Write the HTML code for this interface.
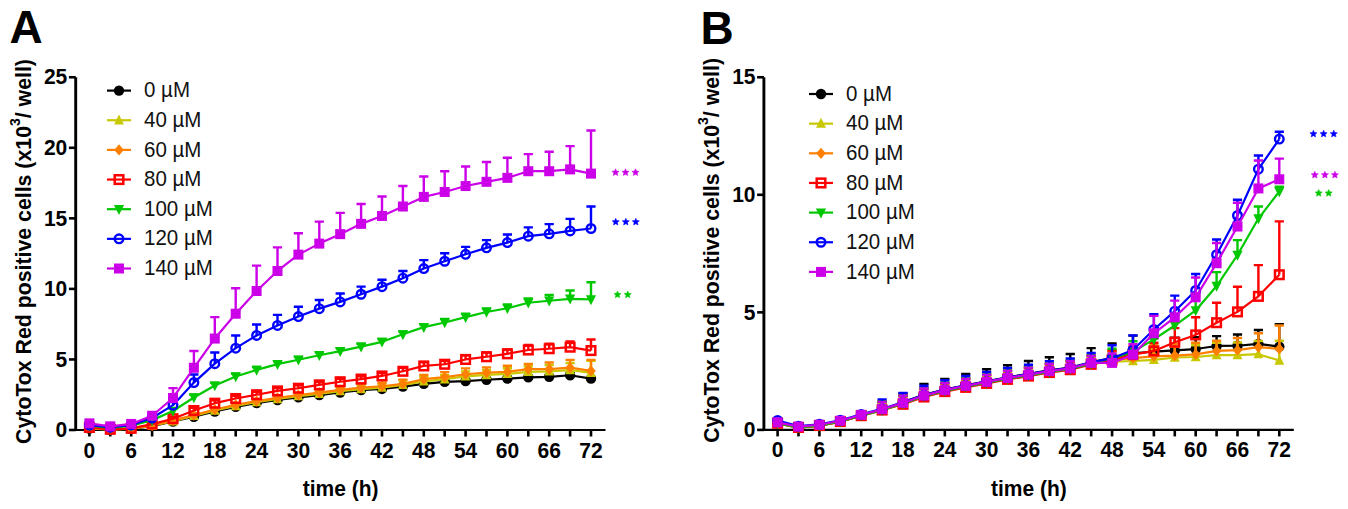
<!DOCTYPE html>
<html><head><meta charset="utf-8">
<style>
html,body{margin:0;padding:0;background:#fff;}
body{width:1348px;height:509px;overflow:hidden;}
svg{display:block;}
text{font-family:"Liberation Sans",sans-serif;}
.tk{font-weight:bold;font-size:21px;fill:#000;}
.sup{font-size:14px;}
.lg{font-size:20.5px;fill:#111;}
.yl{font-weight:bold;font-size:21.3px;fill:#000;}
.pl{font-weight:bold;font-size:46px;fill:#000;}
.st{font-size:20px;font-weight:bold;letter-spacing:2.8px;}
</style></head><body>
<svg width="1348" height="509" viewBox="0 0 1348 509">
<text transform="translate(9.50,43.00)" class="pl">A</text>
<text transform="translate(700.50,43.50)" class="pl">B</text>
<path d="M75.70,77.25V431.10" fill="none" stroke="#000" stroke-width="2.9"/>
<path d="M74.25,430.00H605.50" fill="none" stroke="#000" stroke-width="2.2"/>
<path d="M68.90,430.00H75.70" stroke="#000" stroke-width="2.6"/>
<text transform="translate(67.30,437.20) scale(1,1.08)" class="tk" text-anchor="end">0</text>
<path d="M68.90,359.45H75.70" stroke="#000" stroke-width="2.6"/>
<text transform="translate(67.30,366.65) scale(1,1.08)" class="tk" text-anchor="end">5</text>
<path d="M68.90,288.90H75.70" stroke="#000" stroke-width="2.6"/>
<text transform="translate(67.30,296.10) scale(1,1.08)" class="tk" text-anchor="end">10</text>
<path d="M68.90,218.35H75.70" stroke="#000" stroke-width="2.6"/>
<text transform="translate(67.30,225.55) scale(1,1.08)" class="tk" text-anchor="end">15</text>
<path d="M68.90,147.80H75.70" stroke="#000" stroke-width="2.6"/>
<text transform="translate(67.30,155.00) scale(1,1.08)" class="tk" text-anchor="end">20</text>
<path d="M68.90,77.25H75.70" stroke="#000" stroke-width="2.6"/>
<text transform="translate(67.30,84.45) scale(1,1.08)" class="tk" text-anchor="end">25</text>
<path d="M89.40,430.00V436.50" stroke="#000" stroke-width="2.6"/>
<text transform="translate(89.40,457.50) scale(1,1.08)" class="tk" text-anchor="middle">0</text>
<path d="M110.30,430.00V436.50" stroke="#000" stroke-width="2.6"/>
<path d="M131.20,430.00V436.50" stroke="#000" stroke-width="2.6"/>
<text transform="translate(131.20,457.50) scale(1,1.08)" class="tk" text-anchor="middle">6</text>
<path d="M152.10,430.00V436.50" stroke="#000" stroke-width="2.6"/>
<path d="M173.00,430.00V436.50" stroke="#000" stroke-width="2.6"/>
<text transform="translate(173.00,457.50) scale(1,1.08)" class="tk" text-anchor="middle">12</text>
<path d="M193.90,430.00V436.50" stroke="#000" stroke-width="2.6"/>
<path d="M214.80,430.00V436.50" stroke="#000" stroke-width="2.6"/>
<text transform="translate(214.80,457.50) scale(1,1.08)" class="tk" text-anchor="middle">18</text>
<path d="M235.70,430.00V436.50" stroke="#000" stroke-width="2.6"/>
<path d="M256.60,430.00V436.50" stroke="#000" stroke-width="2.6"/>
<text transform="translate(256.60,457.50) scale(1,1.08)" class="tk" text-anchor="middle">24</text>
<path d="M277.50,430.00V436.50" stroke="#000" stroke-width="2.6"/>
<path d="M298.40,430.00V436.50" stroke="#000" stroke-width="2.6"/>
<text transform="translate(298.40,457.50) scale(1,1.08)" class="tk" text-anchor="middle">30</text>
<path d="M319.30,430.00V436.50" stroke="#000" stroke-width="2.6"/>
<path d="M340.20,430.00V436.50" stroke="#000" stroke-width="2.6"/>
<text transform="translate(340.20,457.50) scale(1,1.08)" class="tk" text-anchor="middle">36</text>
<path d="M361.10,430.00V436.50" stroke="#000" stroke-width="2.6"/>
<path d="M382.00,430.00V436.50" stroke="#000" stroke-width="2.6"/>
<text transform="translate(382.00,457.50) scale(1,1.08)" class="tk" text-anchor="middle">42</text>
<path d="M402.90,430.00V436.50" stroke="#000" stroke-width="2.6"/>
<path d="M423.80,430.00V436.50" stroke="#000" stroke-width="2.6"/>
<text transform="translate(423.80,457.50) scale(1,1.08)" class="tk" text-anchor="middle">48</text>
<path d="M444.70,430.00V436.50" stroke="#000" stroke-width="2.6"/>
<path d="M465.60,430.00V436.50" stroke="#000" stroke-width="2.6"/>
<text transform="translate(465.60,457.50) scale(1,1.08)" class="tk" text-anchor="middle">54</text>
<path d="M486.50,430.00V436.50" stroke="#000" stroke-width="2.6"/>
<path d="M507.40,430.00V436.50" stroke="#000" stroke-width="2.6"/>
<text transform="translate(507.40,457.50) scale(1,1.08)" class="tk" text-anchor="middle">60</text>
<path d="M528.30,430.00V436.50" stroke="#000" stroke-width="2.6"/>
<path d="M549.20,430.00V436.50" stroke="#000" stroke-width="2.6"/>
<text transform="translate(549.20,457.50) scale(1,1.08)" class="tk" text-anchor="middle">66</text>
<path d="M570.10,430.00V436.50" stroke="#000" stroke-width="2.6"/>
<path d="M591.00,430.00V436.50" stroke="#000" stroke-width="2.6"/>
<text transform="translate(591.00,457.50) scale(1,1.08)" class="tk" text-anchor="middle">72</text>
<text transform="translate(340.60,496.00) scale(1,1.08)" class="tk" text-anchor="middle">time (h)</text>
<text transform="translate(31.40,251.50) rotate(-90) scale(1,1.06)" class="yl" text-anchor="middle">CytoTox Red positive cells (x10<tspan class="sup" dy="-10.5">3</tspan><tspan dy="10.5">/ well)</tspan></text>
<g><polyline points="89.40,428.59 110.30,429.72 131.20,428.87 152.10,426.05 173.00,421.53 193.90,416.74 214.80,411.52 235.70,406.86 256.60,403.05 277.50,399.95 298.40,397.41 319.30,395.15 340.20,392.47 361.10,390.07 382.00,388.94 402.90,386.54 423.80,383.86 444.70,381.88 465.60,381.04 486.50,379.77 507.40,378.64 528.30,377.37 549.20,376.81 570.10,375.25 591.00,378.64" fill="none" stroke="#000000" stroke-width="2.2" stroke-linejoin="round"/><path d="M89.40,428.59V426.90M84.80,426.90H94.00" stroke="#000000" stroke-width="2.4"/><path d="M110.30,429.72V428.02M105.70,428.02H114.90" stroke="#000000" stroke-width="2.4"/><path d="M131.20,428.87V427.18M126.60,427.18H135.80" stroke="#000000" stroke-width="2.4"/><path d="M152.10,426.05V424.36M147.50,424.36H156.70" stroke="#000000" stroke-width="2.4"/><path d="M173.00,421.53V419.84M168.40,419.84H177.60" stroke="#000000" stroke-width="2.4"/><path d="M193.90,416.74V415.04M189.30,415.04H198.50" stroke="#000000" stroke-width="2.4"/><path d="M214.80,411.52V409.82M210.20,409.82H219.40" stroke="#000000" stroke-width="2.4"/><path d="M235.70,406.86V405.17M231.10,405.17H240.30" stroke="#000000" stroke-width="2.4"/><path d="M256.60,403.05V401.36M252.00,401.36H261.20" stroke="#000000" stroke-width="2.4"/><path d="M277.50,399.95V398.25M272.90,398.25H282.10" stroke="#000000" stroke-width="2.4"/><path d="M298.40,397.41V395.71M293.80,395.71H303.00" stroke="#000000" stroke-width="2.4"/><path d="M319.30,395.15V393.46M314.70,393.46H323.90" stroke="#000000" stroke-width="2.4"/><path d="M340.20,392.47V390.77M335.60,390.77H344.80" stroke="#000000" stroke-width="2.4"/><path d="M361.10,390.07V388.38M356.50,388.38H365.70" stroke="#000000" stroke-width="2.4"/><path d="M382.00,388.94V387.25M377.40,387.25H386.60" stroke="#000000" stroke-width="2.4"/><path d="M402.90,386.54V384.85M398.30,384.85H407.50" stroke="#000000" stroke-width="2.4"/><path d="M423.80,383.86V382.17M419.20,382.17H428.40" stroke="#000000" stroke-width="2.4"/><path d="M444.70,381.88V380.19M440.10,380.19H449.30" stroke="#000000" stroke-width="2.4"/><path d="M465.60,381.04V379.35M461.00,379.35H470.20" stroke="#000000" stroke-width="2.4"/><path d="M486.50,379.77V378.08M481.90,378.08H491.10" stroke="#000000" stroke-width="2.4"/><path d="M507.40,378.64V376.95M502.80,376.95H512.00" stroke="#000000" stroke-width="2.4"/><path d="M528.30,377.37V375.68M523.70,375.68H532.90" stroke="#000000" stroke-width="2.4"/><path d="M549.20,376.81V375.11M544.60,375.11H553.80" stroke="#000000" stroke-width="2.4"/><path d="M570.10,375.25V373.56M565.50,373.56H574.70" stroke="#000000" stroke-width="2.4"/><path d="M591.00,378.64V376.95M586.40,376.95H595.60" stroke="#000000" stroke-width="2.4"/><circle cx="89.40" cy="428.59" r="5.20" fill="#000000"/><circle cx="110.30" cy="429.72" r="5.20" fill="#000000"/><circle cx="131.20" cy="428.87" r="5.20" fill="#000000"/><circle cx="152.10" cy="426.05" r="5.20" fill="#000000"/><circle cx="173.00" cy="421.53" r="5.20" fill="#000000"/><circle cx="193.90" cy="416.74" r="5.20" fill="#000000"/><circle cx="214.80" cy="411.52" r="5.20" fill="#000000"/><circle cx="235.70" cy="406.86" r="5.20" fill="#000000"/><circle cx="256.60" cy="403.05" r="5.20" fill="#000000"/><circle cx="277.50" cy="399.95" r="5.20" fill="#000000"/><circle cx="298.40" cy="397.41" r="5.20" fill="#000000"/><circle cx="319.30" cy="395.15" r="5.20" fill="#000000"/><circle cx="340.20" cy="392.47" r="5.20" fill="#000000"/><circle cx="361.10" cy="390.07" r="5.20" fill="#000000"/><circle cx="382.00" cy="388.94" r="5.20" fill="#000000"/><circle cx="402.90" cy="386.54" r="5.20" fill="#000000"/><circle cx="423.80" cy="383.86" r="5.20" fill="#000000"/><circle cx="444.70" cy="381.88" r="5.20" fill="#000000"/><circle cx="465.60" cy="381.04" r="5.20" fill="#000000"/><circle cx="486.50" cy="379.77" r="5.20" fill="#000000"/><circle cx="507.40" cy="378.64" r="5.20" fill="#000000"/><circle cx="528.30" cy="377.37" r="5.20" fill="#000000"/><circle cx="549.20" cy="376.81" r="5.20" fill="#000000"/><circle cx="570.10" cy="375.25" r="5.20" fill="#000000"/><circle cx="591.00" cy="378.64" r="5.20" fill="#000000"/></g>
<g><polyline points="89.40,428.31 110.30,429.58 131.20,428.73 152.10,425.77 173.00,421.25 193.90,415.89 214.80,410.53 235.70,406.01 256.60,402.06 277.50,398.96 298.40,396.14 319.30,393.88 340.20,391.20 361.10,389.08 382.00,387.67 402.90,384.85 423.80,381.32 444.70,379.20 465.60,376.38 486.50,374.97 507.40,373.84 528.30,371.87 549.20,371.44 570.10,370.03 591.00,372.85" fill="none" stroke="#c8c800" stroke-width="2.2" stroke-linejoin="round"/><path d="M89.40,428.31V426.90M84.80,426.90H94.00" stroke="#c8c800" stroke-width="2.4"/><path d="M110.30,429.58V428.17M105.70,428.17H114.90" stroke="#c8c800" stroke-width="2.4"/><path d="M131.20,428.73V427.32M126.60,427.32H135.80" stroke="#c8c800" stroke-width="2.4"/><path d="M152.10,425.77V424.36M147.50,424.36H156.70" stroke="#c8c800" stroke-width="2.4"/><path d="M173.00,421.25V419.84M168.40,419.84H177.60" stroke="#c8c800" stroke-width="2.4"/><path d="M193.90,415.89V414.48M189.30,414.48H198.50" stroke="#c8c800" stroke-width="2.4"/><path d="M214.80,410.53V409.12M210.20,409.12H219.40" stroke="#c8c800" stroke-width="2.4"/><path d="M235.70,406.01V404.60M231.10,404.60H240.30" stroke="#c8c800" stroke-width="2.4"/><path d="M256.60,402.06V400.65M252.00,400.65H261.20" stroke="#c8c800" stroke-width="2.4"/><path d="M277.50,398.96V397.55M272.90,397.55H282.10" stroke="#c8c800" stroke-width="2.4"/><path d="M298.40,396.14V394.73M293.80,394.73H303.00" stroke="#c8c800" stroke-width="2.4"/><path d="M319.30,393.88V392.47M314.70,392.47H323.90" stroke="#c8c800" stroke-width="2.4"/><path d="M340.20,391.20V388.38M335.60,388.38H344.80" stroke="#c8c800" stroke-width="2.4"/><path d="M361.10,389.08V385.55M356.50,385.55H365.70" stroke="#c8c800" stroke-width="2.4"/><path d="M382.00,387.67V384.14M377.40,384.14H386.60" stroke="#c8c800" stroke-width="2.4"/><path d="M402.90,384.85V380.62M398.30,380.62H407.50" stroke="#c8c800" stroke-width="2.4"/><path d="M423.80,381.32V377.09M419.20,377.09H428.40" stroke="#c8c800" stroke-width="2.4"/><path d="M444.70,379.20V374.97M440.10,374.97H449.30" stroke="#c8c800" stroke-width="2.4"/><path d="M465.60,376.38V371.44M461.00,371.44H470.20" stroke="#c8c800" stroke-width="2.4"/><path d="M486.50,374.97V370.03M481.90,370.03H491.10" stroke="#c8c800" stroke-width="2.4"/><path d="M507.40,373.84V368.20M502.80,368.20H512.00" stroke="#c8c800" stroke-width="2.4"/><path d="M528.30,371.87V366.22M523.70,366.22H532.90" stroke="#c8c800" stroke-width="2.4"/><path d="M549.20,371.44V365.09M544.60,365.09H553.80" stroke="#c8c800" stroke-width="2.4"/><path d="M570.10,370.03V362.98M565.50,362.98H574.70" stroke="#c8c800" stroke-width="2.4"/><path d="M591.00,372.85V360.86M586.40,360.86H595.60" stroke="#c8c800" stroke-width="2.4"/><path d="M89.40,422.51L94.33,432.48L84.47,432.48Z" fill="#c8c800"/><path d="M110.30,423.78L115.23,433.75L105.37,433.75Z" fill="#c8c800"/><path d="M131.20,422.93L136.13,432.91L126.27,432.91Z" fill="#c8c800"/><path d="M152.10,419.97L157.03,429.94L147.17,429.94Z" fill="#c8c800"/><path d="M173.00,415.45L177.93,425.43L168.07,425.43Z" fill="#c8c800"/><path d="M193.90,410.09L198.83,420.07L188.97,420.07Z" fill="#c8c800"/><path d="M214.80,404.73L219.73,414.70L209.87,414.70Z" fill="#c8c800"/><path d="M235.70,400.21L240.63,410.19L230.77,410.19Z" fill="#c8c800"/><path d="M256.60,396.26L261.53,406.24L251.67,406.24Z" fill="#c8c800"/><path d="M277.50,393.16L282.43,403.13L272.57,403.13Z" fill="#c8c800"/><path d="M298.40,390.34L303.33,400.31L293.47,400.31Z" fill="#c8c800"/><path d="M319.30,388.08L324.23,398.05L314.37,398.05Z" fill="#c8c800"/><path d="M340.20,385.40L345.13,395.37L335.27,395.37Z" fill="#c8c800"/><path d="M361.10,383.28L366.03,393.26L356.17,393.26Z" fill="#c8c800"/><path d="M382.00,381.87L386.93,391.85L377.07,391.85Z" fill="#c8c800"/><path d="M402.90,379.05L407.83,389.02L397.97,389.02Z" fill="#c8c800"/><path d="M423.80,375.52L428.73,385.50L418.87,385.50Z" fill="#c8c800"/><path d="M444.70,373.40L449.63,383.38L439.77,383.38Z" fill="#c8c800"/><path d="M465.60,370.58L470.53,380.56L460.67,380.56Z" fill="#c8c800"/><path d="M486.50,369.17L491.43,379.15L481.57,379.15Z" fill="#c8c800"/><path d="M507.40,368.04L512.33,378.02L502.47,378.02Z" fill="#c8c800"/><path d="M528.30,366.07L533.23,376.04L523.37,376.04Z" fill="#c8c800"/><path d="M549.20,365.64L554.13,375.62L544.27,375.62Z" fill="#c8c800"/><path d="M570.10,364.23L575.03,374.21L565.17,374.21Z" fill="#c8c800"/><path d="M591.00,367.05L595.93,377.03L586.07,377.03Z" fill="#c8c800"/></g>
<g><polyline points="89.40,427.88 110.30,429.29 131.20,428.59 152.10,425.77 173.00,420.41 193.90,415.18 214.80,409.54 235.70,404.88 256.60,401.07 277.50,397.83 298.40,395.01 319.30,392.61 340.20,389.79 361.10,387.67 382.00,386.26 402.90,383.86 423.80,379.20 444.70,377.09 465.60,374.27 486.50,372.71 507.40,371.73 528.30,369.04 549.20,369.04 570.10,367.63 591.00,370.88" fill="none" stroke="#ff8000" stroke-width="2.2" stroke-linejoin="round"/><path d="M89.40,427.88V426.47M84.80,426.47H94.00" stroke="#ff8000" stroke-width="2.4"/><path d="M110.30,429.29V427.88M105.70,427.88H114.90" stroke="#ff8000" stroke-width="2.4"/><path d="M131.20,428.59V427.18M126.60,427.18H135.80" stroke="#ff8000" stroke-width="2.4"/><path d="M152.10,425.77V424.36M147.50,424.36H156.70" stroke="#ff8000" stroke-width="2.4"/><path d="M173.00,420.41V418.99M168.40,418.99H177.60" stroke="#ff8000" stroke-width="2.4"/><path d="M193.90,415.18V413.77M189.30,413.77H198.50" stroke="#ff8000" stroke-width="2.4"/><path d="M214.80,409.54V408.13M210.20,408.13H219.40" stroke="#ff8000" stroke-width="2.4"/><path d="M235.70,404.88V403.47M231.10,403.47H240.30" stroke="#ff8000" stroke-width="2.4"/><path d="M256.60,401.07V399.66M252.00,399.66H261.20" stroke="#ff8000" stroke-width="2.4"/><path d="M277.50,397.83V396.42M272.90,396.42H282.10" stroke="#ff8000" stroke-width="2.4"/><path d="M298.40,395.01V393.60M293.80,393.60H303.00" stroke="#ff8000" stroke-width="2.4"/><path d="M319.30,392.61V391.20M314.70,391.20H323.90" stroke="#ff8000" stroke-width="2.4"/><path d="M340.20,389.79V386.96M335.60,386.96H344.80" stroke="#ff8000" stroke-width="2.4"/><path d="M361.10,387.67V384.14M356.50,384.14H365.70" stroke="#ff8000" stroke-width="2.4"/><path d="M382.00,386.26V382.73M377.40,382.73H386.60" stroke="#ff8000" stroke-width="2.4"/><path d="M402.90,383.86V379.63M398.30,379.63H407.50" stroke="#ff8000" stroke-width="2.4"/><path d="M423.80,379.20V374.97M419.20,374.97H428.40" stroke="#ff8000" stroke-width="2.4"/><path d="M444.70,377.09V372.15M440.10,372.15H449.30" stroke="#ff8000" stroke-width="2.4"/><path d="M465.60,374.27V368.34M461.00,368.34H470.20" stroke="#ff8000" stroke-width="2.4"/><path d="M486.50,372.71V367.35M481.90,367.35H491.10" stroke="#ff8000" stroke-width="2.4"/><path d="M507.40,371.73V365.80M502.80,365.80H512.00" stroke="#ff8000" stroke-width="2.4"/><path d="M528.30,369.04V363.97M523.70,363.97H532.90" stroke="#ff8000" stroke-width="2.4"/><path d="M549.20,369.04V362.55M544.60,362.55H553.80" stroke="#ff8000" stroke-width="2.4"/><path d="M570.10,367.63V359.87M565.50,359.87H574.70" stroke="#ff8000" stroke-width="2.4"/><path d="M591.00,370.88V359.87M586.40,359.87H595.60" stroke="#ff8000" stroke-width="2.4"/><path d="M89.40,422.28L94.16,427.88L89.40,433.48L84.64,427.88Z" fill="#ff8000"/><path d="M110.30,423.69L115.06,429.29L110.30,434.89L105.54,429.29Z" fill="#ff8000"/><path d="M131.20,422.99L135.96,428.59L131.20,434.19L126.44,428.59Z" fill="#ff8000"/><path d="M152.10,420.17L156.86,425.77L152.10,431.37L147.34,425.77Z" fill="#ff8000"/><path d="M173.00,414.81L177.76,420.41L173.00,426.01L168.24,420.41Z" fill="#ff8000"/><path d="M193.90,409.58L198.66,415.18L193.90,420.78L189.14,415.18Z" fill="#ff8000"/><path d="M214.80,403.94L219.56,409.54L214.80,415.14L210.04,409.54Z" fill="#ff8000"/><path d="M235.70,399.28L240.46,404.88L235.70,410.48L230.94,404.88Z" fill="#ff8000"/><path d="M256.60,395.47L261.36,401.07L256.60,406.67L251.84,401.07Z" fill="#ff8000"/><path d="M277.50,392.23L282.26,397.83L277.50,403.43L272.74,397.83Z" fill="#ff8000"/><path d="M298.40,389.41L303.16,395.01L298.40,400.61L293.64,395.01Z" fill="#ff8000"/><path d="M319.30,387.01L324.06,392.61L319.30,398.21L314.54,392.61Z" fill="#ff8000"/><path d="M340.20,384.19L344.96,389.79L340.20,395.39L335.44,389.79Z" fill="#ff8000"/><path d="M361.10,382.07L365.86,387.67L361.10,393.27L356.34,387.67Z" fill="#ff8000"/><path d="M382.00,380.66L386.76,386.26L382.00,391.86L377.24,386.26Z" fill="#ff8000"/><path d="M402.90,378.26L407.66,383.86L402.90,389.46L398.14,383.86Z" fill="#ff8000"/><path d="M423.80,373.60L428.56,379.20L423.80,384.80L419.04,379.20Z" fill="#ff8000"/><path d="M444.70,371.49L449.46,377.09L444.70,382.69L439.94,377.09Z" fill="#ff8000"/><path d="M465.60,368.67L470.36,374.27L465.60,379.87L460.84,374.27Z" fill="#ff8000"/><path d="M486.50,367.11L491.26,372.71L486.50,378.31L481.74,372.71Z" fill="#ff8000"/><path d="M507.40,366.13L512.16,371.73L507.40,377.33L502.64,371.73Z" fill="#ff8000"/><path d="M528.30,363.44L533.06,369.04L528.30,374.64L523.54,369.04Z" fill="#ff8000"/><path d="M549.20,363.44L553.96,369.04L549.20,374.64L544.44,369.04Z" fill="#ff8000"/><path d="M570.10,362.03L574.86,367.63L570.10,373.23L565.34,367.63Z" fill="#ff8000"/><path d="M591.00,365.28L595.76,370.88L591.00,376.48L586.24,370.88Z" fill="#ff8000"/></g>
<g><polyline points="89.40,427.46 110.30,429.29 131.20,428.31 152.10,424.07 173.00,418.71 193.90,410.53 214.80,403.19 235.70,398.53 256.60,394.73 277.50,390.92 298.40,388.23 319.30,384.85 340.20,381.74 361.10,379.06 382.00,375.96 402.90,371.30 423.80,365.94 444.70,364.25 465.60,359.45 486.50,356.77 507.40,353.81 528.30,350.00 549.20,348.73 570.10,347.17 591.00,350.56" fill="none" stroke="#ff0000" stroke-width="2.2" stroke-linejoin="round"/><path d="M89.40,427.46V426.05M84.80,426.05H94.00" stroke="#ff0000" stroke-width="2.4"/><path d="M110.30,429.29V427.88M105.70,427.88H114.90" stroke="#ff0000" stroke-width="2.4"/><path d="M131.20,428.31V426.90M126.60,426.90H135.80" stroke="#ff0000" stroke-width="2.4"/><path d="M152.10,424.07V422.66M147.50,422.66H156.70" stroke="#ff0000" stroke-width="2.4"/><path d="M173.00,418.71V416.60M168.40,416.60H177.60" stroke="#ff0000" stroke-width="2.4"/><path d="M193.90,410.53V407.71M189.30,407.71H198.50" stroke="#ff0000" stroke-width="2.4"/><path d="M214.80,403.19V400.37M210.20,400.37H219.40" stroke="#ff0000" stroke-width="2.4"/><path d="M235.70,398.53V395.71M231.10,395.71H240.30" stroke="#ff0000" stroke-width="2.4"/><path d="M256.60,394.73V391.90M252.00,391.90H261.20" stroke="#ff0000" stroke-width="2.4"/><path d="M277.50,390.92V388.09M272.90,388.09H282.10" stroke="#ff0000" stroke-width="2.4"/><path d="M298.40,388.23V385.41M293.80,385.41H303.00" stroke="#ff0000" stroke-width="2.4"/><path d="M319.30,384.85V382.03M314.70,382.03H323.90" stroke="#ff0000" stroke-width="2.4"/><path d="M340.20,381.74V378.92M335.60,378.92H344.80" stroke="#ff0000" stroke-width="2.4"/><path d="M361.10,379.06V376.24M356.50,376.24H365.70" stroke="#ff0000" stroke-width="2.4"/><path d="M382.00,375.96V373.14M377.40,373.14H386.60" stroke="#ff0000" stroke-width="2.4"/><path d="M402.90,371.30V367.77M398.30,367.77H407.50" stroke="#ff0000" stroke-width="2.4"/><path d="M423.80,365.94V362.41M419.20,362.41H428.40" stroke="#ff0000" stroke-width="2.4"/><path d="M444.70,364.25V360.72M440.10,360.72H449.30" stroke="#ff0000" stroke-width="2.4"/><path d="M465.60,359.45V355.22M461.00,355.22H470.20" stroke="#ff0000" stroke-width="2.4"/><path d="M486.50,356.77V352.54M481.90,352.54H491.10" stroke="#ff0000" stroke-width="2.4"/><path d="M507.40,353.81V349.57M502.80,349.57H512.00" stroke="#ff0000" stroke-width="2.4"/><path d="M528.30,350.00V345.06M523.70,345.06H532.90" stroke="#ff0000" stroke-width="2.4"/><path d="M549.20,348.73V343.79M544.60,343.79H553.80" stroke="#ff0000" stroke-width="2.4"/><path d="M570.10,347.17V341.53M565.50,341.53H574.70" stroke="#ff0000" stroke-width="2.4"/><path d="M591.00,350.56V339.55M586.40,339.55H595.60" stroke="#ff0000" stroke-width="2.4"/><rect x="85.10" y="423.16" width="8.60" height="8.60" fill="none" stroke="#ff0000" stroke-width="2.5"/><rect x="106.00" y="424.99" width="8.60" height="8.60" fill="none" stroke="#ff0000" stroke-width="2.5"/><rect x="126.90" y="424.01" width="8.60" height="8.60" fill="none" stroke="#ff0000" stroke-width="2.5"/><rect x="147.80" y="419.77" width="8.60" height="8.60" fill="none" stroke="#ff0000" stroke-width="2.5"/><rect x="168.70" y="414.41" width="8.60" height="8.60" fill="none" stroke="#ff0000" stroke-width="2.5"/><rect x="189.60" y="406.23" width="8.60" height="8.60" fill="none" stroke="#ff0000" stroke-width="2.5"/><rect x="210.50" y="398.89" width="8.60" height="8.60" fill="none" stroke="#ff0000" stroke-width="2.5"/><rect x="231.40" y="394.23" width="8.60" height="8.60" fill="none" stroke="#ff0000" stroke-width="2.5"/><rect x="252.30" y="390.43" width="8.60" height="8.60" fill="none" stroke="#ff0000" stroke-width="2.5"/><rect x="273.20" y="386.62" width="8.60" height="8.60" fill="none" stroke="#ff0000" stroke-width="2.5"/><rect x="294.10" y="383.93" width="8.60" height="8.60" fill="none" stroke="#ff0000" stroke-width="2.5"/><rect x="315.00" y="380.55" width="8.60" height="8.60" fill="none" stroke="#ff0000" stroke-width="2.5"/><rect x="335.90" y="377.44" width="8.60" height="8.60" fill="none" stroke="#ff0000" stroke-width="2.5"/><rect x="356.80" y="374.76" width="8.60" height="8.60" fill="none" stroke="#ff0000" stroke-width="2.5"/><rect x="377.70" y="371.66" width="8.60" height="8.60" fill="none" stroke="#ff0000" stroke-width="2.5"/><rect x="398.60" y="367.00" width="8.60" height="8.60" fill="none" stroke="#ff0000" stroke-width="2.5"/><rect x="419.50" y="361.64" width="8.60" height="8.60" fill="none" stroke="#ff0000" stroke-width="2.5"/><rect x="440.40" y="359.95" width="8.60" height="8.60" fill="none" stroke="#ff0000" stroke-width="2.5"/><rect x="461.30" y="355.15" width="8.60" height="8.60" fill="none" stroke="#ff0000" stroke-width="2.5"/><rect x="482.20" y="352.47" width="8.60" height="8.60" fill="none" stroke="#ff0000" stroke-width="2.5"/><rect x="503.10" y="349.51" width="8.60" height="8.60" fill="none" stroke="#ff0000" stroke-width="2.5"/><rect x="524.00" y="345.70" width="8.60" height="8.60" fill="none" stroke="#ff0000" stroke-width="2.5"/><rect x="544.90" y="344.43" width="8.60" height="8.60" fill="none" stroke="#ff0000" stroke-width="2.5"/><rect x="565.80" y="342.87" width="8.60" height="8.60" fill="none" stroke="#ff0000" stroke-width="2.5"/><rect x="586.70" y="346.26" width="8.60" height="8.60" fill="none" stroke="#ff0000" stroke-width="2.5"/></g>
<g><polyline points="89.40,425.77 110.30,427.88 131.20,425.77 152.10,420.12 173.00,410.95 193.90,397.55 214.80,385.55 235.70,376.52 256.60,369.89 277.50,364.11 298.40,359.73 319.30,355.22 340.20,351.13 361.10,346.61 382.00,341.81 402.90,334.33 423.80,327.14 444.70,322.48 465.60,317.12 486.50,312.04 507.40,308.23 528.30,302.73 549.20,300.75 570.10,298.78 591.00,299.34" fill="none" stroke="#00c800" stroke-width="2.2" stroke-linejoin="round"/><path d="M89.40,425.77V424.36M84.80,424.36H94.00" stroke="#00c800" stroke-width="2.4"/><path d="M110.30,427.88V426.47M105.70,426.47H114.90" stroke="#00c800" stroke-width="2.4"/><path d="M131.20,425.77V424.36M126.60,424.36H135.80" stroke="#00c800" stroke-width="2.4"/><path d="M152.10,420.12V418.71M147.50,418.71H156.70" stroke="#00c800" stroke-width="2.4"/><path d="M173.00,410.95V408.83M168.40,408.83H177.60" stroke="#00c800" stroke-width="2.4"/><path d="M193.90,397.55V394.73M189.30,394.73H198.50" stroke="#00c800" stroke-width="2.4"/><path d="M214.80,385.55V382.73M210.20,382.73H219.40" stroke="#00c800" stroke-width="2.4"/><path d="M235.70,376.52V373.70M231.10,373.70H240.30" stroke="#00c800" stroke-width="2.4"/><path d="M256.60,369.89V367.07M252.00,367.07H261.20" stroke="#00c800" stroke-width="2.4"/><path d="M277.50,364.11V361.28M272.90,361.28H282.10" stroke="#00c800" stroke-width="2.4"/><path d="M298.40,359.73V356.91M293.80,356.91H303.00" stroke="#00c800" stroke-width="2.4"/><path d="M319.30,355.22V352.39M314.70,352.39H323.90" stroke="#00c800" stroke-width="2.4"/><path d="M340.20,351.13V348.30M335.60,348.30H344.80" stroke="#00c800" stroke-width="2.4"/><path d="M361.10,346.61V343.79M356.50,343.79H365.70" stroke="#00c800" stroke-width="2.4"/><path d="M382.00,341.81V338.99M377.40,338.99H386.60" stroke="#00c800" stroke-width="2.4"/><path d="M402.90,334.33V331.51M398.30,331.51H407.50" stroke="#00c800" stroke-width="2.4"/><path d="M423.80,327.14V324.32M419.20,324.32H428.40" stroke="#00c800" stroke-width="2.4"/><path d="M444.70,322.48V318.95M440.10,318.95H449.30" stroke="#00c800" stroke-width="2.4"/><path d="M465.60,317.12V313.59M461.00,313.59H470.20" stroke="#00c800" stroke-width="2.4"/><path d="M486.50,312.04V308.51M481.90,308.51H491.10" stroke="#00c800" stroke-width="2.4"/><path d="M507.40,308.23V304.42M502.80,304.42H512.00" stroke="#00c800" stroke-width="2.4"/><path d="M528.30,302.73V298.49M523.70,298.49H532.90" stroke="#00c800" stroke-width="2.4"/><path d="M549.20,300.75V294.97M544.60,294.97H553.80" stroke="#00c800" stroke-width="2.4"/><path d="M570.10,298.78V290.45M565.50,290.45H574.70" stroke="#00c800" stroke-width="2.4"/><path d="M591.00,299.34V282.27M586.40,282.27H595.60" stroke="#00c800" stroke-width="2.4"/><path d="M89.40,431.57L94.50,421.59L84.30,421.59Z" fill="#00c800"/><path d="M110.30,433.68L115.40,423.71L105.20,423.71Z" fill="#00c800"/><path d="M131.20,431.57L136.30,421.59L126.10,421.59Z" fill="#00c800"/><path d="M152.10,425.92L157.20,415.95L147.00,415.95Z" fill="#00c800"/><path d="M173.00,416.75L178.10,406.78L167.90,406.78Z" fill="#00c800"/><path d="M193.90,403.35L199.00,393.37L188.80,393.37Z" fill="#00c800"/><path d="M214.80,391.35L219.90,381.38L209.70,381.38Z" fill="#00c800"/><path d="M235.70,382.32L240.80,372.35L230.60,372.35Z" fill="#00c800"/><path d="M256.60,375.69L261.70,365.72L251.50,365.72Z" fill="#00c800"/><path d="M277.50,369.91L282.60,359.93L272.40,359.93Z" fill="#00c800"/><path d="M298.40,365.53L303.50,355.56L293.30,355.56Z" fill="#00c800"/><path d="M319.30,361.02L324.40,351.04L314.20,351.04Z" fill="#00c800"/><path d="M340.20,356.93L345.30,346.95L335.10,346.95Z" fill="#00c800"/><path d="M361.10,352.41L366.20,342.43L356.00,342.43Z" fill="#00c800"/><path d="M382.00,347.61L387.10,337.64L376.90,337.64Z" fill="#00c800"/><path d="M402.90,340.13L408.00,330.16L397.80,330.16Z" fill="#00c800"/><path d="M423.80,332.94L428.90,322.96L418.70,322.96Z" fill="#00c800"/><path d="M444.70,328.28L449.80,318.31L439.60,318.31Z" fill="#00c800"/><path d="M465.60,322.92L470.70,312.94L460.50,312.94Z" fill="#00c800"/><path d="M486.50,317.84L491.60,307.86L481.40,307.86Z" fill="#00c800"/><path d="M507.40,314.03L512.50,304.05L502.30,304.05Z" fill="#00c800"/><path d="M528.30,308.53L533.40,298.55L523.20,298.55Z" fill="#00c800"/><path d="M549.20,306.55L554.30,296.58L544.10,296.58Z" fill="#00c800"/><path d="M570.10,304.58L575.20,294.60L565.00,294.60Z" fill="#00c800"/><path d="M591.00,305.14L596.10,295.17L585.90,295.17Z" fill="#00c800"/></g>
<g><polyline points="89.40,425.06 110.30,427.18 131.20,425.06 152.10,418.01 173.00,405.17 193.90,382.59 214.80,363.68 235.70,348.16 256.60,335.46 277.50,325.44 298.40,316.56 319.30,308.65 340.20,301.88 361.10,294.26 382.00,286.64 402.90,278.18 423.80,268.58 444.70,261.24 465.60,254.33 486.50,247.84 507.40,242.62 528.30,236.13 549.20,233.87 570.10,230.91 591.00,228.51" fill="none" stroke="#0000ff" stroke-width="2.2" stroke-linejoin="round"/><path d="M89.40,425.06V423.65M84.80,423.65H94.00" stroke="#0000ff" stroke-width="2.4"/><path d="M110.30,427.18V425.77M105.70,425.77H114.90" stroke="#0000ff" stroke-width="2.4"/><path d="M131.20,425.06V423.65M126.60,423.65H135.80" stroke="#0000ff" stroke-width="2.4"/><path d="M152.10,418.01V415.89M147.50,415.89H156.70" stroke="#0000ff" stroke-width="2.4"/><path d="M173.00,405.17V399.66M168.40,399.66H177.60" stroke="#0000ff" stroke-width="2.4"/><path d="M193.90,382.59V374.55M189.30,374.55H198.50" stroke="#0000ff" stroke-width="2.4"/><path d="M214.80,363.68V352.54M210.20,352.54H219.40" stroke="#0000ff" stroke-width="2.4"/><path d="M235.70,348.16V335.46M231.10,335.46H240.30" stroke="#0000ff" stroke-width="2.4"/><path d="M256.60,335.46V324.46M252.00,324.46H261.20" stroke="#0000ff" stroke-width="2.4"/><path d="M277.50,325.44V314.86M272.90,314.86H282.10" stroke="#0000ff" stroke-width="2.4"/><path d="M298.40,316.56V306.82M293.80,306.82H303.00" stroke="#0000ff" stroke-width="2.4"/><path d="M319.30,308.65V300.05M314.70,300.05H323.90" stroke="#0000ff" stroke-width="2.4"/><path d="M340.20,301.88V293.56M335.60,293.56H344.80" stroke="#0000ff" stroke-width="2.4"/><path d="M361.10,294.26V286.64M356.50,286.64H365.70" stroke="#0000ff" stroke-width="2.4"/><path d="M382.00,286.64V279.73M377.40,279.73H386.60" stroke="#0000ff" stroke-width="2.4"/><path d="M402.90,278.18V270.98M398.30,270.98H407.50" stroke="#0000ff" stroke-width="2.4"/><path d="M423.80,268.58V260.12M419.20,260.12H428.40" stroke="#0000ff" stroke-width="2.4"/><path d="M444.70,261.24V253.20M440.10,253.20H449.30" stroke="#0000ff" stroke-width="2.4"/><path d="M465.60,254.33V246.85M461.00,246.85H470.20" stroke="#0000ff" stroke-width="2.4"/><path d="M486.50,247.84V240.08M481.90,240.08H491.10" stroke="#0000ff" stroke-width="2.4"/><path d="M507.40,242.62V234.44M502.80,234.44H512.00" stroke="#0000ff" stroke-width="2.4"/><path d="M528.30,236.13V227.38M523.70,227.38H532.90" stroke="#0000ff" stroke-width="2.4"/><path d="M549.20,233.87V224.14M544.60,224.14H553.80" stroke="#0000ff" stroke-width="2.4"/><path d="M570.10,230.91V218.91M565.50,218.91H574.70" stroke="#0000ff" stroke-width="2.4"/><path d="M591.00,228.51V206.50M586.40,206.50H595.60" stroke="#0000ff" stroke-width="2.4"/><circle cx="89.40" cy="425.06" r="4.30" fill="none" stroke="#0000ff" stroke-width="2.4"/><circle cx="110.30" cy="427.18" r="4.30" fill="none" stroke="#0000ff" stroke-width="2.4"/><circle cx="131.20" cy="425.06" r="4.30" fill="none" stroke="#0000ff" stroke-width="2.4"/><circle cx="152.10" cy="418.01" r="4.30" fill="none" stroke="#0000ff" stroke-width="2.4"/><circle cx="173.00" cy="405.17" r="4.30" fill="none" stroke="#0000ff" stroke-width="2.4"/><circle cx="193.90" cy="382.59" r="4.30" fill="none" stroke="#0000ff" stroke-width="2.4"/><circle cx="214.80" cy="363.68" r="4.30" fill="none" stroke="#0000ff" stroke-width="2.4"/><circle cx="235.70" cy="348.16" r="4.30" fill="none" stroke="#0000ff" stroke-width="2.4"/><circle cx="256.60" cy="335.46" r="4.30" fill="none" stroke="#0000ff" stroke-width="2.4"/><circle cx="277.50" cy="325.44" r="4.30" fill="none" stroke="#0000ff" stroke-width="2.4"/><circle cx="298.40" cy="316.56" r="4.30" fill="none" stroke="#0000ff" stroke-width="2.4"/><circle cx="319.30" cy="308.65" r="4.30" fill="none" stroke="#0000ff" stroke-width="2.4"/><circle cx="340.20" cy="301.88" r="4.30" fill="none" stroke="#0000ff" stroke-width="2.4"/><circle cx="361.10" cy="294.26" r="4.30" fill="none" stroke="#0000ff" stroke-width="2.4"/><circle cx="382.00" cy="286.64" r="4.30" fill="none" stroke="#0000ff" stroke-width="2.4"/><circle cx="402.90" cy="278.18" r="4.30" fill="none" stroke="#0000ff" stroke-width="2.4"/><circle cx="423.80" cy="268.58" r="4.30" fill="none" stroke="#0000ff" stroke-width="2.4"/><circle cx="444.70" cy="261.24" r="4.30" fill="none" stroke="#0000ff" stroke-width="2.4"/><circle cx="465.60" cy="254.33" r="4.30" fill="none" stroke="#0000ff" stroke-width="2.4"/><circle cx="486.50" cy="247.84" r="4.30" fill="none" stroke="#0000ff" stroke-width="2.4"/><circle cx="507.40" cy="242.62" r="4.30" fill="none" stroke="#0000ff" stroke-width="2.4"/><circle cx="528.30" cy="236.13" r="4.30" fill="none" stroke="#0000ff" stroke-width="2.4"/><circle cx="549.20" cy="233.87" r="4.30" fill="none" stroke="#0000ff" stroke-width="2.4"/><circle cx="570.10" cy="230.91" r="4.30" fill="none" stroke="#0000ff" stroke-width="2.4"/><circle cx="591.00" cy="228.51" r="4.30" fill="none" stroke="#0000ff" stroke-width="2.4"/></g>
<g><polyline points="89.40,423.37 110.30,426.33 131.20,423.93 152.10,415.75 173.00,397.97 193.90,367.77 214.80,338.57 235.70,313.73 256.60,291.02 277.50,270.98 298.40,254.61 319.30,243.61 340.20,234.15 361.10,223.85 382.00,215.95 402.90,206.50 423.80,196.90 444.70,191.96 465.60,186.04 486.50,181.81 507.40,177.85 528.30,171.22 549.20,171.22 570.10,169.39 591.00,173.62" fill="none" stroke="#cc00e8" stroke-width="2.2" stroke-linejoin="round"/><path d="M89.40,423.37V421.96M84.80,421.96H94.00" stroke="#cc00e8" stroke-width="2.4"/><path d="M110.30,426.33V424.92M105.70,424.92H114.90" stroke="#cc00e8" stroke-width="2.4"/><path d="M131.20,423.93V422.52M126.60,422.52H135.80" stroke="#cc00e8" stroke-width="2.4"/><path d="M152.10,415.75V413.63M147.50,413.63H156.70" stroke="#cc00e8" stroke-width="2.4"/><path d="M173.00,397.97V388.09M168.40,388.09H177.60" stroke="#cc00e8" stroke-width="2.4"/><path d="M193.90,367.77V350.98M189.30,350.98H198.50" stroke="#cc00e8" stroke-width="2.4"/><path d="M214.80,338.57V317.12M210.20,317.12H219.40" stroke="#cc00e8" stroke-width="2.4"/><path d="M235.70,313.73V288.19M231.10,288.19H240.30" stroke="#cc00e8" stroke-width="2.4"/><path d="M256.60,291.02V265.62M252.00,265.62H261.20" stroke="#cc00e8" stroke-width="2.4"/><path d="M277.50,270.98V247.42M272.90,247.42H282.10" stroke="#cc00e8" stroke-width="2.4"/><path d="M298.40,254.61V233.31M293.80,233.31H303.00" stroke="#cc00e8" stroke-width="2.4"/><path d="M319.30,243.61V221.60M314.70,221.60H323.90" stroke="#cc00e8" stroke-width="2.4"/><path d="M340.20,234.15V212.85M335.60,212.85H344.80" stroke="#cc00e8" stroke-width="2.4"/><path d="M361.10,223.85V203.96M356.50,203.96H365.70" stroke="#cc00e8" stroke-width="2.4"/><path d="M382.00,215.95V196.48M377.40,196.48H386.60" stroke="#cc00e8" stroke-width="2.4"/><path d="M402.90,206.50V186.04M398.30,186.04H407.50" stroke="#cc00e8" stroke-width="2.4"/><path d="M423.80,196.90V176.44M419.20,176.44H428.40" stroke="#cc00e8" stroke-width="2.4"/><path d="M444.70,191.96V171.22M440.10,171.22H449.30" stroke="#cc00e8" stroke-width="2.4"/><path d="M465.60,186.04V166.57M461.00,166.57H470.20" stroke="#cc00e8" stroke-width="2.4"/><path d="M486.50,181.81V162.05M481.90,162.05H491.10" stroke="#cc00e8" stroke-width="2.4"/><path d="M507.40,177.85V157.68M502.80,157.68H512.00" stroke="#cc00e8" stroke-width="2.4"/><path d="M528.30,171.22V154.15M523.70,154.15H532.90" stroke="#cc00e8" stroke-width="2.4"/><path d="M549.20,171.22V151.75M544.60,151.75H553.80" stroke="#cc00e8" stroke-width="2.4"/><path d="M570.10,169.39V146.11M565.50,146.11H574.70" stroke="#cc00e8" stroke-width="2.4"/><path d="M591.00,173.62V130.44M586.40,130.44H595.60" stroke="#cc00e8" stroke-width="2.4"/><rect x="84.40" y="418.37" width="10.00" height="10.00" fill="#cc00e8"/><rect x="105.30" y="421.33" width="10.00" height="10.00" fill="#cc00e8"/><rect x="126.20" y="418.93" width="10.00" height="10.00" fill="#cc00e8"/><rect x="147.10" y="410.75" width="10.00" height="10.00" fill="#cc00e8"/><rect x="168.00" y="392.97" width="10.00" height="10.00" fill="#cc00e8"/><rect x="188.90" y="362.77" width="10.00" height="10.00" fill="#cc00e8"/><rect x="209.80" y="333.57" width="10.00" height="10.00" fill="#cc00e8"/><rect x="230.70" y="308.73" width="10.00" height="10.00" fill="#cc00e8"/><rect x="251.60" y="286.02" width="10.00" height="10.00" fill="#cc00e8"/><rect x="272.50" y="265.98" width="10.00" height="10.00" fill="#cc00e8"/><rect x="293.40" y="249.61" width="10.00" height="10.00" fill="#cc00e8"/><rect x="314.30" y="238.61" width="10.00" height="10.00" fill="#cc00e8"/><rect x="335.20" y="229.15" width="10.00" height="10.00" fill="#cc00e8"/><rect x="356.10" y="218.85" width="10.00" height="10.00" fill="#cc00e8"/><rect x="377.00" y="210.95" width="10.00" height="10.00" fill="#cc00e8"/><rect x="397.90" y="201.50" width="10.00" height="10.00" fill="#cc00e8"/><rect x="418.80" y="191.90" width="10.00" height="10.00" fill="#cc00e8"/><rect x="439.70" y="186.96" width="10.00" height="10.00" fill="#cc00e8"/><rect x="460.60" y="181.04" width="10.00" height="10.00" fill="#cc00e8"/><rect x="481.50" y="176.81" width="10.00" height="10.00" fill="#cc00e8"/><rect x="502.40" y="172.85" width="10.00" height="10.00" fill="#cc00e8"/><rect x="523.30" y="166.22" width="10.00" height="10.00" fill="#cc00e8"/><rect x="544.20" y="166.22" width="10.00" height="10.00" fill="#cc00e8"/><rect x="565.10" y="164.39" width="10.00" height="10.00" fill="#cc00e8"/><rect x="586.00" y="168.62" width="10.00" height="10.00" fill="#cc00e8"/></g>
<path d="M107.00,90.60H131.00" stroke="#000000" stroke-width="2.2"/>
<circle cx="119.00" cy="90.60" r="5.20" fill="#000000"/>
<text transform="translate(144.00,97.20) scale(1,1.08)" class="lg">0 µM</text>
<path d="M107.00,120.25H131.00" stroke="#c8c800" stroke-width="2.2"/>
<path d="M119.00,114.45L123.93,124.43L114.07,124.43Z" fill="#c8c800"/>
<text transform="translate(144.00,126.85) scale(1,1.08)" class="lg">40 µM</text>
<path d="M107.00,149.90H131.00" stroke="#ff8000" stroke-width="2.2"/>
<path d="M119.00,144.30L123.76,149.90L119.00,155.50L114.24,149.90Z" fill="#ff8000"/>
<text transform="translate(144.00,156.50) scale(1,1.08)" class="lg">60 µM</text>
<path d="M107.00,179.55H131.00" stroke="#ff0000" stroke-width="2.2"/>
<rect x="114.70" y="175.25" width="8.60" height="8.60" fill="none" stroke="#ff0000" stroke-width="2.5"/>
<text transform="translate(144.00,186.15) scale(1,1.08)" class="lg">80 µM</text>
<path d="M107.00,209.20H131.00" stroke="#00c800" stroke-width="2.2"/>
<path d="M119.00,215.00L124.10,205.02L113.90,205.02Z" fill="#00c800"/>
<text transform="translate(144.00,215.80) scale(1,1.08)" class="lg">100 µM</text>
<path d="M107.00,238.85H131.00" stroke="#0000ff" stroke-width="2.2"/>
<circle cx="119.00" cy="238.85" r="4.30" fill="none" stroke="#0000ff" stroke-width="2.4"/>
<text transform="translate(144.00,245.45) scale(1,1.08)" class="lg">120 µM</text>
<path d="M107.00,268.50H131.00" stroke="#cc00e8" stroke-width="2.2"/>
<rect x="114.00" y="263.50" width="10.00" height="10.00" fill="#cc00e8"/>
<text transform="translate(144.00,275.10) scale(1,1.08)" class="lg">140 µM</text>
<polygon points="615.50,168.75 616.53,171.08 619.07,171.34 617.16,173.04 617.70,175.53 615.50,174.25 613.30,175.53 613.84,173.04 611.93,171.34 614.47,171.08" fill="#cc00e8" stroke="#cc00e8" stroke-width="0.5" stroke-linejoin="round"/>
<polygon points="625.50,168.75 626.53,171.08 629.07,171.34 627.16,173.04 627.70,175.53 625.50,174.25 623.30,175.53 623.84,173.04 621.93,171.34 624.47,171.08" fill="#cc00e8" stroke="#cc00e8" stroke-width="0.5" stroke-linejoin="round"/>
<polygon points="635.50,168.75 636.53,171.08 639.07,171.34 637.16,173.04 637.70,175.53 635.50,174.25 633.30,175.53 633.84,173.04 631.93,171.34 634.47,171.08" fill="#cc00e8" stroke="#cc00e8" stroke-width="0.5" stroke-linejoin="round"/>
<polygon points="615.70,218.25 616.73,220.58 619.27,220.84 617.36,222.54 617.90,225.03 615.70,223.75 613.50,225.03 614.04,222.54 612.13,220.84 614.67,220.58" fill="#0000ff" stroke="#0000ff" stroke-width="0.5" stroke-linejoin="round"/>
<polygon points="625.80,218.25 626.83,220.58 629.37,220.84 627.46,222.54 628.00,225.03 625.80,223.75 623.60,225.03 624.14,222.54 622.23,220.84 624.77,220.58" fill="#0000ff" stroke="#0000ff" stroke-width="0.5" stroke-linejoin="round"/>
<polygon points="635.80,218.25 636.83,220.58 639.37,220.84 637.46,222.54 638.00,225.03 635.80,223.75 633.60,225.03 634.14,222.54 632.23,220.84 634.77,220.58" fill="#0000ff" stroke="#0000ff" stroke-width="0.5" stroke-linejoin="round"/>
<polygon points="617.50,290.95 618.53,293.28 621.07,293.54 619.16,295.24 619.70,297.73 617.50,296.45 615.30,297.73 615.84,295.24 613.93,293.54 616.47,293.28" fill="#00c800" stroke="#00c800" stroke-width="0.5" stroke-linejoin="round"/>
<polygon points="627.70,290.95 628.73,293.28 631.27,293.54 629.36,295.24 629.90,297.73 627.70,296.45 625.50,297.73 626.04,295.24 624.13,293.54 626.67,293.28" fill="#00c800" stroke="#00c800" stroke-width="0.5" stroke-linejoin="round"/>
<path d="M763.90,77.25V431.00" fill="none" stroke="#000" stroke-width="2.9"/>
<path d="M762.45,429.90H1293.80" fill="none" stroke="#000" stroke-width="2.2"/>
<path d="M757.10,429.90H763.90" stroke="#000" stroke-width="2.6"/>
<text transform="translate(755.50,437.10) scale(1,1.08)" class="tk" text-anchor="end">0</text>
<path d="M757.10,312.35H763.90" stroke="#000" stroke-width="2.6"/>
<text transform="translate(755.50,319.55) scale(1,1.08)" class="tk" text-anchor="end">5</text>
<path d="M757.10,194.80H763.90" stroke="#000" stroke-width="2.6"/>
<text transform="translate(755.50,202.00) scale(1,1.08)" class="tk" text-anchor="end">10</text>
<path d="M757.10,77.25H763.90" stroke="#000" stroke-width="2.6"/>
<text transform="translate(755.50,84.45) scale(1,1.08)" class="tk" text-anchor="end">15</text>
<path d="M777.60,429.90V436.40" stroke="#000" stroke-width="2.6"/>
<text transform="translate(777.60,457.40) scale(1,1.08)" class="tk" text-anchor="middle">0</text>
<path d="M798.50,429.90V436.40" stroke="#000" stroke-width="2.6"/>
<path d="M819.41,429.90V436.40" stroke="#000" stroke-width="2.6"/>
<text transform="translate(819.41,457.40) scale(1,1.08)" class="tk" text-anchor="middle">6</text>
<path d="M840.31,429.90V436.40" stroke="#000" stroke-width="2.6"/>
<path d="M861.22,429.90V436.40" stroke="#000" stroke-width="2.6"/>
<text transform="translate(861.22,457.40) scale(1,1.08)" class="tk" text-anchor="middle">12</text>
<path d="M882.12,429.90V436.40" stroke="#000" stroke-width="2.6"/>
<path d="M903.02,429.90V436.40" stroke="#000" stroke-width="2.6"/>
<text transform="translate(903.02,457.40) scale(1,1.08)" class="tk" text-anchor="middle">18</text>
<path d="M923.93,429.90V436.40" stroke="#000" stroke-width="2.6"/>
<path d="M944.83,429.90V436.40" stroke="#000" stroke-width="2.6"/>
<text transform="translate(944.83,457.40) scale(1,1.08)" class="tk" text-anchor="middle">24</text>
<path d="M965.74,429.90V436.40" stroke="#000" stroke-width="2.6"/>
<path d="M986.64,429.90V436.40" stroke="#000" stroke-width="2.6"/>
<text transform="translate(986.64,457.40) scale(1,1.08)" class="tk" text-anchor="middle">30</text>
<path d="M1007.55,429.90V436.40" stroke="#000" stroke-width="2.6"/>
<path d="M1028.45,429.90V436.40" stroke="#000" stroke-width="2.6"/>
<text transform="translate(1028.45,457.40) scale(1,1.08)" class="tk" text-anchor="middle">36</text>
<path d="M1049.35,429.90V436.40" stroke="#000" stroke-width="2.6"/>
<path d="M1070.26,429.90V436.40" stroke="#000" stroke-width="2.6"/>
<text transform="translate(1070.26,457.40) scale(1,1.08)" class="tk" text-anchor="middle">42</text>
<path d="M1091.16,429.90V436.40" stroke="#000" stroke-width="2.6"/>
<path d="M1112.07,429.90V436.40" stroke="#000" stroke-width="2.6"/>
<text transform="translate(1112.07,457.40) scale(1,1.08)" class="tk" text-anchor="middle">48</text>
<path d="M1132.97,429.90V436.40" stroke="#000" stroke-width="2.6"/>
<path d="M1153.88,429.90V436.40" stroke="#000" stroke-width="2.6"/>
<text transform="translate(1153.88,457.40) scale(1,1.08)" class="tk" text-anchor="middle">54</text>
<path d="M1174.78,429.90V436.40" stroke="#000" stroke-width="2.6"/>
<path d="M1195.68,429.90V436.40" stroke="#000" stroke-width="2.6"/>
<text transform="translate(1195.68,457.40) scale(1,1.08)" class="tk" text-anchor="middle">60</text>
<path d="M1216.59,429.90V436.40" stroke="#000" stroke-width="2.6"/>
<path d="M1237.49,429.90V436.40" stroke="#000" stroke-width="2.6"/>
<text transform="translate(1237.49,457.40) scale(1,1.08)" class="tk" text-anchor="middle">66</text>
<path d="M1258.40,429.90V436.40" stroke="#000" stroke-width="2.6"/>
<path d="M1279.30,429.90V436.40" stroke="#000" stroke-width="2.6"/>
<text transform="translate(1279.30,457.40) scale(1,1.08)" class="tk" text-anchor="middle">72</text>
<text transform="translate(1028.85,495.90) scale(1,1.08)" class="tk" text-anchor="middle">time (h)</text>
<text transform="translate(719.20,250.40) rotate(-90) scale(1,1.06)" class="yl" text-anchor="middle">CytoTox Red positive cells (x10<tspan class="sup" dy="-10.5">3</tspan><tspan dy="10.5">/ well)</tspan></text>
<g><polyline points="777.60,423.32 798.50,427.55 819.41,425.67 840.31,421.67 861.22,415.79 882.12,410.15 903.02,402.16 923.93,394.87 944.83,389.46 965.74,385.23 986.64,381.23 1007.55,377.24 1028.45,373.95 1049.35,370.42 1070.26,367.60 1091.16,362.19 1112.07,358.19 1132.97,353.26 1153.88,351.61 1174.78,350.44 1195.68,349.03 1216.59,345.97 1237.49,345.73 1258.40,343.85 1279.30,346.67" fill="none" stroke="#000000" stroke-width="2.2" stroke-linejoin="round"/><path d="M777.60,423.32V420.97M773.00,420.97H782.20" stroke="#000000" stroke-width="2.4"/><path d="M798.50,427.55V425.20M793.90,425.20H803.10" stroke="#000000" stroke-width="2.4"/><path d="M819.41,425.67V423.32M814.81,423.32H824.01" stroke="#000000" stroke-width="2.4"/><path d="M840.31,421.67V418.85M835.71,418.85H844.91" stroke="#000000" stroke-width="2.4"/><path d="M861.22,415.79V412.27M856.62,412.27H865.82" stroke="#000000" stroke-width="2.4"/><path d="M882.12,410.15V403.10M877.52,403.10H886.72" stroke="#000000" stroke-width="2.4"/><path d="M903.02,402.16V393.46M898.42,393.46H907.62" stroke="#000000" stroke-width="2.4"/><path d="M923.93,394.87V384.06M919.33,384.06H928.53" stroke="#000000" stroke-width="2.4"/><path d="M944.83,389.46V378.88M940.23,378.88H949.43" stroke="#000000" stroke-width="2.4"/><path d="M965.74,385.23V373.95M961.14,373.95H970.34" stroke="#000000" stroke-width="2.4"/><path d="M986.64,381.23V369.24M982.04,369.24H991.24" stroke="#000000" stroke-width="2.4"/><path d="M1007.55,377.24V365.25M1002.95,365.25H1012.15" stroke="#000000" stroke-width="2.4"/><path d="M1028.45,373.95V361.02M1023.85,361.02H1033.05" stroke="#000000" stroke-width="2.4"/><path d="M1049.35,370.42V357.25M1044.75,357.25H1053.95" stroke="#000000" stroke-width="2.4"/><path d="M1070.26,367.60V353.96M1065.66,353.96H1074.86" stroke="#000000" stroke-width="2.4"/><path d="M1091.16,362.19V348.09M1086.56,348.09H1095.76" stroke="#000000" stroke-width="2.4"/><path d="M1112.07,358.19V343.38M1107.47,343.38H1116.67" stroke="#000000" stroke-width="2.4"/><path d="M1132.97,353.26V335.62M1128.37,335.62H1137.57" stroke="#000000" stroke-width="2.4"/><path d="M1153.88,351.61V338.21M1149.28,338.21H1158.47" stroke="#000000" stroke-width="2.4"/><path d="M1174.78,350.44V337.74M1170.18,337.74H1179.38" stroke="#000000" stroke-width="2.4"/><path d="M1195.68,349.03V337.27M1191.08,337.27H1200.28" stroke="#000000" stroke-width="2.4"/><path d="M1216.59,345.97V336.10M1211.99,336.10H1221.19" stroke="#000000" stroke-width="2.4"/><path d="M1237.49,345.73V334.45M1232.89,334.45H1242.09" stroke="#000000" stroke-width="2.4"/><path d="M1258.40,343.85V329.98M1253.80,329.98H1263.00" stroke="#000000" stroke-width="2.4"/><path d="M1279.30,346.67V324.10M1274.70,324.10H1283.90" stroke="#000000" stroke-width="2.4"/><circle cx="777.60" cy="423.32" r="5.20" fill="#000000"/><circle cx="798.50" cy="427.55" r="5.20" fill="#000000"/><circle cx="819.41" cy="425.67" r="5.20" fill="#000000"/><circle cx="840.31" cy="421.67" r="5.20" fill="#000000"/><circle cx="861.22" cy="415.79" r="5.20" fill="#000000"/><circle cx="882.12" cy="410.15" r="5.20" fill="#000000"/><circle cx="903.02" cy="402.16" r="5.20" fill="#000000"/><circle cx="923.93" cy="394.87" r="5.20" fill="#000000"/><circle cx="944.83" cy="389.46" r="5.20" fill="#000000"/><circle cx="965.74" cy="385.23" r="5.20" fill="#000000"/><circle cx="986.64" cy="381.23" r="5.20" fill="#000000"/><circle cx="1007.55" cy="377.24" r="5.20" fill="#000000"/><circle cx="1028.45" cy="373.95" r="5.20" fill="#000000"/><circle cx="1049.35" cy="370.42" r="5.20" fill="#000000"/><circle cx="1070.26" cy="367.60" r="5.20" fill="#000000"/><circle cx="1091.16" cy="362.19" r="5.20" fill="#000000"/><circle cx="1112.07" cy="358.19" r="5.20" fill="#000000"/><circle cx="1132.97" cy="353.26" r="5.20" fill="#000000"/><circle cx="1153.88" cy="351.61" r="5.20" fill="#000000"/><circle cx="1174.78" cy="350.44" r="5.20" fill="#000000"/><circle cx="1195.68" cy="349.03" r="5.20" fill="#000000"/><circle cx="1216.59" cy="345.97" r="5.20" fill="#000000"/><circle cx="1237.49" cy="345.73" r="5.20" fill="#000000"/><circle cx="1258.40" cy="343.85" r="5.20" fill="#000000"/><circle cx="1279.30" cy="346.67" r="5.20" fill="#000000"/></g>
<g><polyline points="777.60,423.32 798.50,427.55 819.41,425.67 840.31,421.67 861.22,415.79 882.12,410.15 903.02,403.80 923.93,396.52 944.83,391.11 965.74,386.88 986.64,382.88 1007.55,378.88 1028.45,375.59 1049.35,372.07 1070.26,369.24 1091.16,363.84 1112.07,361.72 1132.97,361.02 1153.88,359.84 1174.78,357.49 1195.68,357.02 1216.59,355.14 1237.49,355.14 1258.40,354.20 1279.30,360.55" fill="none" stroke="#c8c800" stroke-width="2.2" stroke-linejoin="round"/><path d="M777.60,423.32V422.14M773.00,422.14H782.20" stroke="#c8c800" stroke-width="2.4"/><path d="M798.50,427.55V426.37M793.90,426.37H803.10" stroke="#c8c800" stroke-width="2.4"/><path d="M819.41,425.67V424.49M814.81,424.49H824.01" stroke="#c8c800" stroke-width="2.4"/><path d="M840.31,421.67V420.50M835.71,420.50H844.91" stroke="#c8c800" stroke-width="2.4"/><path d="M861.22,415.79V414.62M856.62,414.62H865.82" stroke="#c8c800" stroke-width="2.4"/><path d="M882.12,410.15V403.10M877.52,403.10H886.72" stroke="#c8c800" stroke-width="2.4"/><path d="M903.02,403.80V396.75M898.42,396.75H907.62" stroke="#c8c800" stroke-width="2.4"/><path d="M923.93,396.52V389.46M919.33,389.46H928.53" stroke="#c8c800" stroke-width="2.4"/><path d="M944.83,391.11V384.06M940.23,384.06H949.43" stroke="#c8c800" stroke-width="2.4"/><path d="M965.74,386.88V379.82M961.14,379.82H970.34" stroke="#c8c800" stroke-width="2.4"/><path d="M986.64,382.88V375.83M982.04,375.83H991.24" stroke="#c8c800" stroke-width="2.4"/><path d="M1007.55,378.88V371.83M1002.95,371.83H1012.15" stroke="#c8c800" stroke-width="2.4"/><path d="M1028.45,375.59V368.54M1023.85,368.54H1033.05" stroke="#c8c800" stroke-width="2.4"/><path d="M1049.35,372.07V365.01M1044.75,365.01H1053.95" stroke="#c8c800" stroke-width="2.4"/><path d="M1070.26,369.24V362.19M1065.66,362.19H1074.86" stroke="#c8c800" stroke-width="2.4"/><path d="M1091.16,363.84V356.78M1086.56,356.78H1095.76" stroke="#c8c800" stroke-width="2.4"/><path d="M1112.07,361.72V352.32M1107.47,352.32H1116.67" stroke="#c8c800" stroke-width="2.4"/><path d="M1132.97,361.02V351.61M1128.37,351.61H1137.57" stroke="#c8c800" stroke-width="2.4"/><path d="M1153.88,359.84V349.26M1149.28,349.26H1158.47" stroke="#c8c800" stroke-width="2.4"/><path d="M1174.78,357.49V346.91M1170.18,346.91H1179.38" stroke="#c8c800" stroke-width="2.4"/><path d="M1195.68,357.02V345.26M1191.08,345.26H1200.28" stroke="#c8c800" stroke-width="2.4"/><path d="M1216.59,355.14V342.68M1211.99,342.68H1221.19" stroke="#c8c800" stroke-width="2.4"/><path d="M1237.49,355.14V342.44M1232.89,342.44H1242.09" stroke="#c8c800" stroke-width="2.4"/><path d="M1258.40,354.20V341.03M1253.80,341.03H1263.00" stroke="#c8c800" stroke-width="2.4"/><path d="M1279.30,360.55V340.80M1274.70,340.80H1283.90" stroke="#c8c800" stroke-width="2.4"/><path d="M777.60,417.52L782.53,427.49L772.67,427.49Z" fill="#c8c800"/><path d="M798.50,421.75L803.43,431.72L793.57,431.72Z" fill="#c8c800"/><path d="M819.41,419.87L824.34,429.84L814.48,429.84Z" fill="#c8c800"/><path d="M840.31,415.87L845.24,425.85L835.38,425.85Z" fill="#c8c800"/><path d="M861.22,409.99L866.15,419.97L856.29,419.97Z" fill="#c8c800"/><path d="M882.12,404.35L887.05,414.33L877.19,414.33Z" fill="#c8c800"/><path d="M903.02,398.00L907.95,407.98L898.10,407.98Z" fill="#c8c800"/><path d="M923.93,390.72L928.86,400.69L919.00,400.69Z" fill="#c8c800"/><path d="M944.83,385.31L949.76,395.28L939.90,395.28Z" fill="#c8c800"/><path d="M965.74,381.08L970.67,391.05L960.81,391.05Z" fill="#c8c800"/><path d="M986.64,377.08L991.57,387.06L981.71,387.06Z" fill="#c8c800"/><path d="M1007.55,373.08L1012.48,383.06L1002.62,383.06Z" fill="#c8c800"/><path d="M1028.45,369.79L1033.38,379.77L1023.52,379.77Z" fill="#c8c800"/><path d="M1049.35,366.27L1054.28,376.24L1044.42,376.24Z" fill="#c8c800"/><path d="M1070.26,363.44L1075.19,373.42L1065.33,373.42Z" fill="#c8c800"/><path d="M1091.16,358.04L1096.09,368.01L1086.23,368.01Z" fill="#c8c800"/><path d="M1112.07,355.92L1117.00,365.90L1107.14,365.90Z" fill="#c8c800"/><path d="M1132.97,355.22L1137.90,365.19L1128.04,365.19Z" fill="#c8c800"/><path d="M1153.88,354.04L1158.81,364.02L1148.94,364.02Z" fill="#c8c800"/><path d="M1174.78,351.69L1179.71,361.67L1169.85,361.67Z" fill="#c8c800"/><path d="M1195.68,351.22L1200.61,361.19L1190.75,361.19Z" fill="#c8c800"/><path d="M1216.59,349.34L1221.52,359.31L1211.66,359.31Z" fill="#c8c800"/><path d="M1237.49,349.34L1242.42,359.31L1232.56,359.31Z" fill="#c8c800"/><path d="M1258.40,348.40L1263.33,358.37L1253.47,358.37Z" fill="#c8c800"/><path d="M1279.30,354.75L1284.23,364.72L1274.37,364.72Z" fill="#c8c800"/></g>
<g><polyline points="777.60,422.85 798.50,427.08 819.41,425.20 840.31,421.20 861.22,415.32 882.12,409.68 903.02,403.33 923.93,396.05 944.83,390.64 965.74,386.41 986.64,382.41 1007.55,378.41 1028.45,375.12 1049.35,371.60 1070.26,368.77 1091.16,363.37 1112.07,359.84 1132.97,358.19 1153.88,356.31 1174.78,355.61 1195.68,354.43 1216.59,350.91 1237.49,350.20 1258.40,347.14 1279.30,348.79" fill="none" stroke="#ff8000" stroke-width="2.2" stroke-linejoin="round"/><path d="M777.60,422.85V421.67M773.00,421.67H782.20" stroke="#ff8000" stroke-width="2.4"/><path d="M798.50,427.08V425.90M793.90,425.90H803.10" stroke="#ff8000" stroke-width="2.4"/><path d="M819.41,425.20V424.02M814.81,424.02H824.01" stroke="#ff8000" stroke-width="2.4"/><path d="M840.31,421.20V420.03M835.71,420.03H844.91" stroke="#ff8000" stroke-width="2.4"/><path d="M861.22,415.32V414.15M856.62,414.15H865.82" stroke="#ff8000" stroke-width="2.4"/><path d="M882.12,409.68V401.45M877.52,401.45H886.72" stroke="#ff8000" stroke-width="2.4"/><path d="M903.02,403.33V395.11M898.42,395.11H907.62" stroke="#ff8000" stroke-width="2.4"/><path d="M923.93,396.05V387.82M919.33,387.82H928.53" stroke="#ff8000" stroke-width="2.4"/><path d="M944.83,390.64V382.41M940.23,382.41H949.43" stroke="#ff8000" stroke-width="2.4"/><path d="M965.74,386.41V378.18M961.14,378.18H970.34" stroke="#ff8000" stroke-width="2.4"/><path d="M986.64,382.41V374.18M982.04,374.18H991.24" stroke="#ff8000" stroke-width="2.4"/><path d="M1007.55,378.41V370.18M1002.95,370.18H1012.15" stroke="#ff8000" stroke-width="2.4"/><path d="M1028.45,375.12V366.89M1023.85,366.89H1033.05" stroke="#ff8000" stroke-width="2.4"/><path d="M1049.35,371.60V363.37M1044.75,363.37H1053.95" stroke="#ff8000" stroke-width="2.4"/><path d="M1070.26,368.77V360.55M1065.66,360.55H1074.86" stroke="#ff8000" stroke-width="2.4"/><path d="M1091.16,363.37V355.14M1086.56,355.14H1095.76" stroke="#ff8000" stroke-width="2.4"/><path d="M1112.07,359.84V350.44M1107.47,350.44H1116.67" stroke="#ff8000" stroke-width="2.4"/><path d="M1132.97,358.19V347.61M1128.37,347.61H1137.57" stroke="#ff8000" stroke-width="2.4"/><path d="M1153.88,356.31V344.56M1149.28,344.56H1158.47" stroke="#ff8000" stroke-width="2.4"/><path d="M1174.78,355.61V343.85M1170.18,343.85H1179.38" stroke="#ff8000" stroke-width="2.4"/><path d="M1195.68,354.43V342.68M1191.08,342.68H1200.28" stroke="#ff8000" stroke-width="2.4"/><path d="M1216.59,350.91V340.80M1211.99,340.80H1221.19" stroke="#ff8000" stroke-width="2.4"/><path d="M1237.49,350.20V337.98M1232.89,337.98H1242.09" stroke="#ff8000" stroke-width="2.4"/><path d="M1258.40,347.14V333.27M1253.80,333.27H1263.00" stroke="#ff8000" stroke-width="2.4"/><path d="M1279.30,348.79V325.52M1274.70,325.52H1283.90" stroke="#ff8000" stroke-width="2.4"/><path d="M777.60,417.25L782.36,422.85L777.60,428.45L772.84,422.85Z" fill="#ff8000"/><path d="M798.50,421.48L803.26,427.08L798.50,432.68L793.74,427.08Z" fill="#ff8000"/><path d="M819.41,419.60L824.17,425.20L819.41,430.80L814.65,425.20Z" fill="#ff8000"/><path d="M840.31,415.60L845.07,421.20L840.31,426.80L835.55,421.20Z" fill="#ff8000"/><path d="M861.22,409.72L865.98,415.32L861.22,420.92L856.46,415.32Z" fill="#ff8000"/><path d="M882.12,404.08L886.88,409.68L882.12,415.28L877.36,409.68Z" fill="#ff8000"/><path d="M903.02,397.73L907.78,403.33L903.02,408.93L898.26,403.33Z" fill="#ff8000"/><path d="M923.93,390.45L928.69,396.05L923.93,401.65L919.17,396.05Z" fill="#ff8000"/><path d="M944.83,385.04L949.59,390.64L944.83,396.24L940.07,390.64Z" fill="#ff8000"/><path d="M965.74,380.81L970.50,386.41L965.74,392.01L960.98,386.41Z" fill="#ff8000"/><path d="M986.64,376.81L991.40,382.41L986.64,388.01L981.88,382.41Z" fill="#ff8000"/><path d="M1007.55,372.81L1012.31,378.41L1007.55,384.01L1002.79,378.41Z" fill="#ff8000"/><path d="M1028.45,369.52L1033.21,375.12L1028.45,380.72L1023.69,375.12Z" fill="#ff8000"/><path d="M1049.35,366.00L1054.11,371.60L1049.35,377.20L1044.59,371.60Z" fill="#ff8000"/><path d="M1070.26,363.17L1075.02,368.77L1070.26,374.37L1065.50,368.77Z" fill="#ff8000"/><path d="M1091.16,357.77L1095.92,363.37L1091.16,368.97L1086.40,363.37Z" fill="#ff8000"/><path d="M1112.07,354.24L1116.83,359.84L1112.07,365.44L1107.31,359.84Z" fill="#ff8000"/><path d="M1132.97,352.59L1137.73,358.19L1132.97,363.79L1128.21,358.19Z" fill="#ff8000"/><path d="M1153.88,350.71L1158.63,356.31L1153.88,361.91L1149.12,356.31Z" fill="#ff8000"/><path d="M1174.78,350.01L1179.54,355.61L1174.78,361.21L1170.02,355.61Z" fill="#ff8000"/><path d="M1195.68,348.83L1200.44,354.43L1195.68,360.03L1190.92,354.43Z" fill="#ff8000"/><path d="M1216.59,345.31L1221.35,350.91L1216.59,356.51L1211.83,350.91Z" fill="#ff8000"/><path d="M1237.49,344.60L1242.25,350.20L1237.49,355.80L1232.73,350.20Z" fill="#ff8000"/><path d="M1258.40,341.54L1263.16,347.14L1258.40,352.74L1253.64,347.14Z" fill="#ff8000"/><path d="M1279.30,343.19L1284.06,348.79L1279.30,354.39L1274.54,348.79Z" fill="#ff8000"/></g>
<g><polyline points="777.60,423.20 798.50,427.43 819.41,425.55 840.31,421.55 861.22,415.68 882.12,410.03 903.02,404.27 923.93,396.99 944.83,391.58 965.74,387.35 986.64,383.35 1007.55,379.35 1028.45,376.06 1049.35,372.54 1070.26,369.71 1091.16,364.31 1112.07,359.84 1132.97,354.67 1153.88,350.91 1174.78,342.21 1195.68,334.92 1216.59,322.69 1237.49,311.88 1258.40,296.36 1279.30,274.73" fill="none" stroke="#ff0000" stroke-width="2.2" stroke-linejoin="round"/><path d="M777.60,423.20V422.02M773.00,422.02H782.20" stroke="#ff0000" stroke-width="2.4"/><path d="M798.50,427.43V426.26M793.90,426.26H803.10" stroke="#ff0000" stroke-width="2.4"/><path d="M819.41,425.55V424.38M814.81,424.38H824.01" stroke="#ff0000" stroke-width="2.4"/><path d="M840.31,421.55V420.38M835.71,420.38H844.91" stroke="#ff0000" stroke-width="2.4"/><path d="M861.22,415.68V414.50M856.62,414.50H865.82" stroke="#ff0000" stroke-width="2.4"/><path d="M882.12,410.03V401.81M877.52,401.81H886.72" stroke="#ff0000" stroke-width="2.4"/><path d="M903.02,404.27V396.05M898.42,396.05H907.62" stroke="#ff0000" stroke-width="2.4"/><path d="M923.93,396.99V388.76M919.33,388.76H928.53" stroke="#ff0000" stroke-width="2.4"/><path d="M944.83,391.58V383.35M940.23,383.35H949.43" stroke="#ff0000" stroke-width="2.4"/><path d="M965.74,387.35V379.12M961.14,379.12H970.34" stroke="#ff0000" stroke-width="2.4"/><path d="M986.64,383.35V375.12M982.04,375.12H991.24" stroke="#ff0000" stroke-width="2.4"/><path d="M1007.55,379.35V371.12M1002.95,371.12H1012.15" stroke="#ff0000" stroke-width="2.4"/><path d="M1028.45,376.06V367.83M1023.85,367.83H1033.05" stroke="#ff0000" stroke-width="2.4"/><path d="M1049.35,372.54V364.31M1044.75,364.31H1053.95" stroke="#ff0000" stroke-width="2.4"/><path d="M1070.26,369.71V361.49M1065.66,361.49H1074.86" stroke="#ff0000" stroke-width="2.4"/><path d="M1091.16,364.31V356.08M1086.56,356.08H1095.76" stroke="#ff0000" stroke-width="2.4"/><path d="M1112.07,359.84V350.44M1107.47,350.44H1116.67" stroke="#ff0000" stroke-width="2.4"/><path d="M1132.97,354.67V346.44M1128.37,346.44H1137.57" stroke="#ff0000" stroke-width="2.4"/><path d="M1153.88,350.91V342.68M1149.28,342.68H1158.47" stroke="#ff0000" stroke-width="2.4"/><path d="M1174.78,342.21V328.10M1170.18,328.10H1179.38" stroke="#ff0000" stroke-width="2.4"/><path d="M1195.68,334.92V317.29M1191.08,317.29H1200.28" stroke="#ff0000" stroke-width="2.4"/><path d="M1216.59,322.69V302.71M1211.99,302.71H1221.19" stroke="#ff0000" stroke-width="2.4"/><path d="M1237.49,311.88V286.72M1232.89,286.72H1242.09" stroke="#ff0000" stroke-width="2.4"/><path d="M1258.40,296.36V265.09M1253.80,265.09H1263.00" stroke="#ff0000" stroke-width="2.4"/><path d="M1279.30,274.73V221.37M1274.70,221.37H1283.90" stroke="#ff0000" stroke-width="2.4"/><rect x="773.30" y="418.90" width="8.60" height="8.60" fill="none" stroke="#ff0000" stroke-width="2.5"/><rect x="794.20" y="423.13" width="8.60" height="8.60" fill="none" stroke="#ff0000" stroke-width="2.5"/><rect x="815.11" y="421.25" width="8.60" height="8.60" fill="none" stroke="#ff0000" stroke-width="2.5"/><rect x="836.01" y="417.25" width="8.60" height="8.60" fill="none" stroke="#ff0000" stroke-width="2.5"/><rect x="856.92" y="411.38" width="8.60" height="8.60" fill="none" stroke="#ff0000" stroke-width="2.5"/><rect x="877.82" y="405.73" width="8.60" height="8.60" fill="none" stroke="#ff0000" stroke-width="2.5"/><rect x="898.73" y="399.97" width="8.60" height="8.60" fill="none" stroke="#ff0000" stroke-width="2.5"/><rect x="919.63" y="392.69" width="8.60" height="8.60" fill="none" stroke="#ff0000" stroke-width="2.5"/><rect x="940.53" y="387.28" width="8.60" height="8.60" fill="none" stroke="#ff0000" stroke-width="2.5"/><rect x="961.44" y="383.05" width="8.60" height="8.60" fill="none" stroke="#ff0000" stroke-width="2.5"/><rect x="982.34" y="379.05" width="8.60" height="8.60" fill="none" stroke="#ff0000" stroke-width="2.5"/><rect x="1003.25" y="375.05" width="8.60" height="8.60" fill="none" stroke="#ff0000" stroke-width="2.5"/><rect x="1024.15" y="371.76" width="8.60" height="8.60" fill="none" stroke="#ff0000" stroke-width="2.5"/><rect x="1045.05" y="368.24" width="8.60" height="8.60" fill="none" stroke="#ff0000" stroke-width="2.5"/><rect x="1065.96" y="365.41" width="8.60" height="8.60" fill="none" stroke="#ff0000" stroke-width="2.5"/><rect x="1086.86" y="360.01" width="8.60" height="8.60" fill="none" stroke="#ff0000" stroke-width="2.5"/><rect x="1107.77" y="355.54" width="8.60" height="8.60" fill="none" stroke="#ff0000" stroke-width="2.5"/><rect x="1128.67" y="350.37" width="8.60" height="8.60" fill="none" stroke="#ff0000" stroke-width="2.5"/><rect x="1149.58" y="346.61" width="8.60" height="8.60" fill="none" stroke="#ff0000" stroke-width="2.5"/><rect x="1170.48" y="337.91" width="8.60" height="8.60" fill="none" stroke="#ff0000" stroke-width="2.5"/><rect x="1191.38" y="330.62" width="8.60" height="8.60" fill="none" stroke="#ff0000" stroke-width="2.5"/><rect x="1212.29" y="318.39" width="8.60" height="8.60" fill="none" stroke="#ff0000" stroke-width="2.5"/><rect x="1233.19" y="307.58" width="8.60" height="8.60" fill="none" stroke="#ff0000" stroke-width="2.5"/><rect x="1254.10" y="292.06" width="8.60" height="8.60" fill="none" stroke="#ff0000" stroke-width="2.5"/><rect x="1275.00" y="270.43" width="8.60" height="8.60" fill="none" stroke="#ff0000" stroke-width="2.5"/></g>
<g><polyline points="777.60,423.08 798.50,427.31 819.41,425.43 840.31,421.44 861.22,415.56 882.12,409.92 903.02,403.57 923.93,396.28 944.83,390.87 965.74,386.64 986.64,382.64 1007.55,378.65 1028.45,375.36 1049.35,371.83 1070.26,369.01 1091.16,363.60 1112.07,358.19 1132.97,351.85 1153.88,339.39 1174.78,325.52 1195.68,310.47 1216.59,286.02 1237.49,254.99 1258.40,218.55 1279.30,191.51" fill="none" stroke="#00c800" stroke-width="2.2" stroke-linejoin="round"/><path d="M777.60,423.08V421.91M773.00,421.91H782.20" stroke="#00c800" stroke-width="2.4"/><path d="M798.50,427.31V426.14M793.90,426.14H803.10" stroke="#00c800" stroke-width="2.4"/><path d="M819.41,425.43V424.26M814.81,424.26H824.01" stroke="#00c800" stroke-width="2.4"/><path d="M840.31,421.44V420.26M835.71,420.26H844.91" stroke="#00c800" stroke-width="2.4"/><path d="M861.22,415.56V414.38M856.62,414.38H865.82" stroke="#00c800" stroke-width="2.4"/><path d="M882.12,409.92V401.69M877.52,401.69H886.72" stroke="#00c800" stroke-width="2.4"/><path d="M903.02,403.57V395.34M898.42,395.34H907.62" stroke="#00c800" stroke-width="2.4"/><path d="M923.93,396.28V388.05M919.33,388.05H928.53" stroke="#00c800" stroke-width="2.4"/><path d="M944.83,390.87V382.64M940.23,382.64H949.43" stroke="#00c800" stroke-width="2.4"/><path d="M965.74,386.64V378.41M961.14,378.41H970.34" stroke="#00c800" stroke-width="2.4"/><path d="M986.64,382.64V374.42M982.04,374.42H991.24" stroke="#00c800" stroke-width="2.4"/><path d="M1007.55,378.65V370.42M1002.95,370.42H1012.15" stroke="#00c800" stroke-width="2.4"/><path d="M1028.45,375.36V367.13M1023.85,367.13H1033.05" stroke="#00c800" stroke-width="2.4"/><path d="M1049.35,371.83V363.60M1044.75,363.60H1053.95" stroke="#00c800" stroke-width="2.4"/><path d="M1070.26,369.01V360.78M1065.66,360.78H1074.86" stroke="#00c800" stroke-width="2.4"/><path d="M1091.16,363.60V355.37M1086.56,355.37H1095.76" stroke="#00c800" stroke-width="2.4"/><path d="M1112.07,358.19V348.79M1107.47,348.79H1116.67" stroke="#00c800" stroke-width="2.4"/><path d="M1132.97,351.85V341.27M1128.37,341.27H1137.57" stroke="#00c800" stroke-width="2.4"/><path d="M1153.88,339.39V330.45M1149.28,330.45H1158.47" stroke="#00c800" stroke-width="2.4"/><path d="M1174.78,325.52V314.70M1170.18,314.70H1179.38" stroke="#00c800" stroke-width="2.4"/><path d="M1195.68,310.47V295.19M1191.08,295.19H1200.28" stroke="#00c800" stroke-width="2.4"/><path d="M1216.59,286.02V272.15M1211.99,272.15H1221.19" stroke="#00c800" stroke-width="2.4"/><path d="M1237.49,254.99V240.17M1232.89,240.17H1242.09" stroke="#00c800" stroke-width="2.4"/><path d="M1258.40,218.55V206.55M1253.80,206.55H1263.00" stroke="#00c800" stroke-width="2.4"/><path d="M1279.30,191.51V186.81M1274.70,186.81H1283.90" stroke="#00c800" stroke-width="2.4"/><path d="M777.60,428.88L782.70,418.91L772.50,418.91Z" fill="#00c800"/><path d="M798.50,433.11L803.61,423.14L793.40,423.14Z" fill="#00c800"/><path d="M819.41,431.23L824.51,421.26L814.30,421.26Z" fill="#00c800"/><path d="M840.31,427.24L845.42,417.26L835.21,417.26Z" fill="#00c800"/><path d="M861.22,421.36L866.32,411.38L856.11,411.38Z" fill="#00c800"/><path d="M882.12,415.72L887.22,405.74L877.02,405.74Z" fill="#00c800"/><path d="M903.02,409.37L908.13,399.39L897.92,399.39Z" fill="#00c800"/><path d="M923.93,402.08L929.03,392.10L918.83,392.10Z" fill="#00c800"/><path d="M944.83,396.67L949.94,386.70L939.73,386.70Z" fill="#00c800"/><path d="M965.74,392.44L970.84,382.47L960.63,382.47Z" fill="#00c800"/><path d="M986.64,388.44L991.75,378.47L981.54,378.47Z" fill="#00c800"/><path d="M1007.55,384.45L1012.65,374.47L1002.44,374.47Z" fill="#00c800"/><path d="M1028.45,381.16L1033.55,371.18L1023.35,371.18Z" fill="#00c800"/><path d="M1049.35,377.63L1054.46,367.65L1044.25,367.65Z" fill="#00c800"/><path d="M1070.26,374.81L1075.36,364.83L1065.15,364.83Z" fill="#00c800"/><path d="M1091.16,369.40L1096.27,359.43L1086.06,359.43Z" fill="#00c800"/><path d="M1112.07,363.99L1117.17,354.02L1106.96,354.02Z" fill="#00c800"/><path d="M1132.97,357.65L1138.07,347.67L1127.87,347.67Z" fill="#00c800"/><path d="M1153.88,345.19L1158.98,335.21L1148.77,335.21Z" fill="#00c800"/><path d="M1174.78,331.32L1179.88,321.34L1169.68,321.34Z" fill="#00c800"/><path d="M1195.68,316.27L1200.79,306.29L1190.58,306.29Z" fill="#00c800"/><path d="M1216.59,291.82L1221.69,281.84L1211.48,281.84Z" fill="#00c800"/><path d="M1237.49,260.79L1242.60,250.81L1232.39,250.81Z" fill="#00c800"/><path d="M1258.40,224.35L1263.50,214.37L1253.29,214.37Z" fill="#00c800"/><path d="M1279.30,197.31L1284.40,187.33L1274.20,187.33Z" fill="#00c800"/></g>
<g><polyline points="777.60,420.50 798.50,426.14 819.41,424.26 840.31,420.26 861.22,414.38 882.12,408.74 903.02,402.39 923.93,395.11 944.83,389.70 965.74,385.47 986.64,381.47 1007.55,377.47 1028.45,374.18 1049.35,370.65 1070.26,367.83 1091.16,362.43 1112.07,358.19 1132.97,349.97 1153.88,329.51 1174.78,311.17 1195.68,290.49 1216.59,254.75 1237.49,215.49 1258.40,169.17 1279.30,139.08" fill="none" stroke="#0000ff" stroke-width="2.2" stroke-linejoin="round"/><path d="M777.60,420.50V419.32M773.00,419.32H782.20" stroke="#0000ff" stroke-width="2.4"/><path d="M798.50,426.14V424.96M793.90,424.96H803.10" stroke="#0000ff" stroke-width="2.4"/><path d="M819.41,424.26V423.08M814.81,423.08H824.01" stroke="#0000ff" stroke-width="2.4"/><path d="M840.31,420.26V419.09M835.71,419.09H844.91" stroke="#0000ff" stroke-width="2.4"/><path d="M861.22,414.38V413.21M856.62,413.21H865.82" stroke="#0000ff" stroke-width="2.4"/><path d="M882.12,408.74V399.34M877.52,399.34H886.72" stroke="#0000ff" stroke-width="2.4"/><path d="M903.02,402.39V392.99M898.42,392.99H907.62" stroke="#0000ff" stroke-width="2.4"/><path d="M923.93,395.11V385.70M919.33,385.70H928.53" stroke="#0000ff" stroke-width="2.4"/><path d="M944.83,389.70V380.29M940.23,380.29H949.43" stroke="#0000ff" stroke-width="2.4"/><path d="M965.74,385.47V376.06M961.14,376.06H970.34" stroke="#0000ff" stroke-width="2.4"/><path d="M986.64,381.47V372.07M982.04,372.07H991.24" stroke="#0000ff" stroke-width="2.4"/><path d="M1007.55,377.47V368.07M1002.95,368.07H1012.15" stroke="#0000ff" stroke-width="2.4"/><path d="M1028.45,374.18V364.78M1023.85,364.78H1033.05" stroke="#0000ff" stroke-width="2.4"/><path d="M1049.35,370.65V361.25M1044.75,361.25H1053.95" stroke="#0000ff" stroke-width="2.4"/><path d="M1070.26,367.83V358.43M1065.66,358.43H1074.86" stroke="#0000ff" stroke-width="2.4"/><path d="M1091.16,362.43V353.02M1086.56,353.02H1095.76" stroke="#0000ff" stroke-width="2.4"/><path d="M1112.07,358.19V345.26M1107.47,345.26H1116.67" stroke="#0000ff" stroke-width="2.4"/><path d="M1132.97,349.97V335.39M1128.37,335.39H1137.57" stroke="#0000ff" stroke-width="2.4"/><path d="M1153.88,329.51V314.23M1149.28,314.23H1158.47" stroke="#0000ff" stroke-width="2.4"/><path d="M1174.78,311.17V295.66M1170.18,295.66H1179.38" stroke="#0000ff" stroke-width="2.4"/><path d="M1195.68,290.49V274.03M1191.08,274.03H1200.28" stroke="#0000ff" stroke-width="2.4"/><path d="M1216.59,254.75V239.47M1211.99,239.47H1221.19" stroke="#0000ff" stroke-width="2.4"/><path d="M1237.49,215.49V199.74M1232.89,199.74H1242.09" stroke="#0000ff" stroke-width="2.4"/><path d="M1258.40,169.17V155.54M1253.80,155.54H1263.00" stroke="#0000ff" stroke-width="2.4"/><path d="M1279.30,139.08V131.79M1274.70,131.79H1283.90" stroke="#0000ff" stroke-width="2.4"/><circle cx="777.60" cy="420.50" r="4.30" fill="none" stroke="#0000ff" stroke-width="2.4"/><circle cx="798.50" cy="426.14" r="4.30" fill="none" stroke="#0000ff" stroke-width="2.4"/><circle cx="819.41" cy="424.26" r="4.30" fill="none" stroke="#0000ff" stroke-width="2.4"/><circle cx="840.31" cy="420.26" r="4.30" fill="none" stroke="#0000ff" stroke-width="2.4"/><circle cx="861.22" cy="414.38" r="4.30" fill="none" stroke="#0000ff" stroke-width="2.4"/><circle cx="882.12" cy="408.74" r="4.30" fill="none" stroke="#0000ff" stroke-width="2.4"/><circle cx="903.02" cy="402.39" r="4.30" fill="none" stroke="#0000ff" stroke-width="2.4"/><circle cx="923.93" cy="395.11" r="4.30" fill="none" stroke="#0000ff" stroke-width="2.4"/><circle cx="944.83" cy="389.70" r="4.30" fill="none" stroke="#0000ff" stroke-width="2.4"/><circle cx="965.74" cy="385.47" r="4.30" fill="none" stroke="#0000ff" stroke-width="2.4"/><circle cx="986.64" cy="381.47" r="4.30" fill="none" stroke="#0000ff" stroke-width="2.4"/><circle cx="1007.55" cy="377.47" r="4.30" fill="none" stroke="#0000ff" stroke-width="2.4"/><circle cx="1028.45" cy="374.18" r="4.30" fill="none" stroke="#0000ff" stroke-width="2.4"/><circle cx="1049.35" cy="370.65" r="4.30" fill="none" stroke="#0000ff" stroke-width="2.4"/><circle cx="1070.26" cy="367.83" r="4.30" fill="none" stroke="#0000ff" stroke-width="2.4"/><circle cx="1091.16" cy="362.43" r="4.30" fill="none" stroke="#0000ff" stroke-width="2.4"/><circle cx="1112.07" cy="358.19" r="4.30" fill="none" stroke="#0000ff" stroke-width="2.4"/><circle cx="1132.97" cy="349.97" r="4.30" fill="none" stroke="#0000ff" stroke-width="2.4"/><circle cx="1153.88" cy="329.51" r="4.30" fill="none" stroke="#0000ff" stroke-width="2.4"/><circle cx="1174.78" cy="311.17" r="4.30" fill="none" stroke="#0000ff" stroke-width="2.4"/><circle cx="1195.68" cy="290.49" r="4.30" fill="none" stroke="#0000ff" stroke-width="2.4"/><circle cx="1216.59" cy="254.75" r="4.30" fill="none" stroke="#0000ff" stroke-width="2.4"/><circle cx="1237.49" cy="215.49" r="4.30" fill="none" stroke="#0000ff" stroke-width="2.4"/><circle cx="1258.40" cy="169.17" r="4.30" fill="none" stroke="#0000ff" stroke-width="2.4"/><circle cx="1279.30" cy="139.08" r="4.30" fill="none" stroke="#0000ff" stroke-width="2.4"/></g>
<g><polyline points="777.60,422.38 798.50,426.61 819.41,424.73 840.31,420.73 861.22,414.85 882.12,409.21 903.02,402.86 923.93,395.58 944.83,390.17 965.74,385.94 986.64,381.94 1007.55,377.94 1028.45,374.65 1049.35,371.12 1070.26,368.30 1091.16,362.90 1112.07,362.90 1132.97,354.67 1153.88,333.27 1174.78,317.29 1195.68,297.30 1216.59,263.21 1237.49,226.54 1258.40,188.45 1279.30,179.28" fill="none" stroke="#cc00e8" stroke-width="2.2" stroke-linejoin="round"/><path d="M777.60,422.38V421.20M773.00,421.20H782.20" stroke="#cc00e8" stroke-width="2.4"/><path d="M798.50,426.61V425.43M793.90,425.43H803.10" stroke="#cc00e8" stroke-width="2.4"/><path d="M819.41,424.73V423.55M814.81,423.55H824.01" stroke="#cc00e8" stroke-width="2.4"/><path d="M840.31,420.73V419.56M835.71,419.56H844.91" stroke="#cc00e8" stroke-width="2.4"/><path d="M861.22,414.85V413.68M856.62,413.68H865.82" stroke="#cc00e8" stroke-width="2.4"/><path d="M882.12,409.21V402.16M877.52,402.16H886.72" stroke="#cc00e8" stroke-width="2.4"/><path d="M903.02,402.86V395.81M898.42,395.81H907.62" stroke="#cc00e8" stroke-width="2.4"/><path d="M923.93,395.58V388.52M919.33,388.52H928.53" stroke="#cc00e8" stroke-width="2.4"/><path d="M944.83,390.17V383.12M940.23,383.12H949.43" stroke="#cc00e8" stroke-width="2.4"/><path d="M965.74,385.94V378.88M961.14,378.88H970.34" stroke="#cc00e8" stroke-width="2.4"/><path d="M986.64,381.94V374.89M982.04,374.89H991.24" stroke="#cc00e8" stroke-width="2.4"/><path d="M1007.55,377.94V370.89M1002.95,370.89H1012.15" stroke="#cc00e8" stroke-width="2.4"/><path d="M1028.45,374.65V367.60M1023.85,367.60H1033.05" stroke="#cc00e8" stroke-width="2.4"/><path d="M1049.35,371.12V364.07M1044.75,364.07H1053.95" stroke="#cc00e8" stroke-width="2.4"/><path d="M1070.26,368.30V361.25M1065.66,361.25H1074.86" stroke="#cc00e8" stroke-width="2.4"/><path d="M1091.16,362.90V355.84M1086.56,355.84H1095.76" stroke="#cc00e8" stroke-width="2.4"/><path d="M1112.07,362.90V353.49M1107.47,353.49H1116.67" stroke="#cc00e8" stroke-width="2.4"/><path d="M1132.97,354.67V344.09M1128.37,344.09H1137.57" stroke="#cc00e8" stroke-width="2.4"/><path d="M1153.88,333.27V315.88M1149.28,315.88H1158.47" stroke="#cc00e8" stroke-width="2.4"/><path d="M1174.78,317.29V300.59M1170.18,300.59H1179.38" stroke="#cc00e8" stroke-width="2.4"/><path d="M1195.68,297.30V277.56M1191.08,277.56H1200.28" stroke="#cc00e8" stroke-width="2.4"/><path d="M1216.59,263.21V243.00M1211.99,243.00H1221.19" stroke="#cc00e8" stroke-width="2.4"/><path d="M1237.49,226.54V202.79M1232.89,202.79H1242.09" stroke="#cc00e8" stroke-width="2.4"/><path d="M1258.40,188.45V160.48M1253.80,160.48H1263.00" stroke="#cc00e8" stroke-width="2.4"/><path d="M1279.30,179.28V158.59M1274.70,158.59H1283.90" stroke="#cc00e8" stroke-width="2.4"/><rect x="772.60" y="417.38" width="10.00" height="10.00" fill="#cc00e8"/><rect x="793.50" y="421.61" width="10.00" height="10.00" fill="#cc00e8"/><rect x="814.41" y="419.73" width="10.00" height="10.00" fill="#cc00e8"/><rect x="835.31" y="415.73" width="10.00" height="10.00" fill="#cc00e8"/><rect x="856.22" y="409.85" width="10.00" height="10.00" fill="#cc00e8"/><rect x="877.12" y="404.21" width="10.00" height="10.00" fill="#cc00e8"/><rect x="898.02" y="397.86" width="10.00" height="10.00" fill="#cc00e8"/><rect x="918.93" y="390.58" width="10.00" height="10.00" fill="#cc00e8"/><rect x="939.83" y="385.17" width="10.00" height="10.00" fill="#cc00e8"/><rect x="960.74" y="380.94" width="10.00" height="10.00" fill="#cc00e8"/><rect x="981.64" y="376.94" width="10.00" height="10.00" fill="#cc00e8"/><rect x="1002.55" y="372.94" width="10.00" height="10.00" fill="#cc00e8"/><rect x="1023.45" y="369.65" width="10.00" height="10.00" fill="#cc00e8"/><rect x="1044.35" y="366.12" width="10.00" height="10.00" fill="#cc00e8"/><rect x="1065.26" y="363.30" width="10.00" height="10.00" fill="#cc00e8"/><rect x="1086.16" y="357.90" width="10.00" height="10.00" fill="#cc00e8"/><rect x="1107.07" y="357.90" width="10.00" height="10.00" fill="#cc00e8"/><rect x="1127.97" y="349.67" width="10.00" height="10.00" fill="#cc00e8"/><rect x="1148.88" y="328.27" width="10.00" height="10.00" fill="#cc00e8"/><rect x="1169.78" y="312.29" width="10.00" height="10.00" fill="#cc00e8"/><rect x="1190.68" y="292.30" width="10.00" height="10.00" fill="#cc00e8"/><rect x="1211.59" y="258.21" width="10.00" height="10.00" fill="#cc00e8"/><rect x="1232.49" y="221.54" width="10.00" height="10.00" fill="#cc00e8"/><rect x="1253.40" y="183.45" width="10.00" height="10.00" fill="#cc00e8"/><rect x="1274.30" y="174.28" width="10.00" height="10.00" fill="#cc00e8"/></g>
<path d="M809.00,94.00H833.00" stroke="#000000" stroke-width="2.2"/>
<circle cx="821.00" cy="94.00" r="5.20" fill="#000000"/>
<text transform="translate(846.00,100.60) scale(1,1.08)" class="lg">0 µM</text>
<path d="M809.00,123.65H833.00" stroke="#c8c800" stroke-width="2.2"/>
<path d="M821.00,117.85L825.93,127.83L816.07,127.83Z" fill="#c8c800"/>
<text transform="translate(846.00,130.25) scale(1,1.08)" class="lg">40 µM</text>
<path d="M809.00,153.30H833.00" stroke="#ff8000" stroke-width="2.2"/>
<path d="M821.00,147.70L825.76,153.30L821.00,158.90L816.24,153.30Z" fill="#ff8000"/>
<text transform="translate(846.00,159.90) scale(1,1.08)" class="lg">60 µM</text>
<path d="M809.00,182.95H833.00" stroke="#ff0000" stroke-width="2.2"/>
<rect x="816.70" y="178.65" width="8.60" height="8.60" fill="none" stroke="#ff0000" stroke-width="2.5"/>
<text transform="translate(846.00,189.55) scale(1,1.08)" class="lg">80 µM</text>
<path d="M809.00,212.60H833.00" stroke="#00c800" stroke-width="2.2"/>
<path d="M821.00,218.40L826.10,208.42L815.90,208.42Z" fill="#00c800"/>
<text transform="translate(846.00,219.20) scale(1,1.08)" class="lg">100 µM</text>
<path d="M809.00,242.25H833.00" stroke="#0000ff" stroke-width="2.2"/>
<circle cx="821.00" cy="242.25" r="4.30" fill="none" stroke="#0000ff" stroke-width="2.4"/>
<text transform="translate(846.00,248.85) scale(1,1.08)" class="lg">120 µM</text>
<path d="M809.00,271.90H833.00" stroke="#cc00e8" stroke-width="2.2"/>
<rect x="816.00" y="266.90" width="10.00" height="10.00" fill="#cc00e8"/>
<text transform="translate(846.00,278.50) scale(1,1.08)" class="lg">140 µM</text>
<polygon points="1313.40,130.15 1314.43,132.48 1316.97,132.74 1315.06,134.44 1315.60,136.93 1313.40,135.65 1311.20,136.93 1311.74,134.44 1309.83,132.74 1312.37,132.48" fill="#0000ff" stroke="#0000ff" stroke-width="0.5" stroke-linejoin="round"/>
<polygon points="1323.60,130.15 1324.63,132.48 1327.17,132.74 1325.26,134.44 1325.80,136.93 1323.60,135.65 1321.40,136.93 1321.94,134.44 1320.03,132.74 1322.57,132.48" fill="#0000ff" stroke="#0000ff" stroke-width="0.5" stroke-linejoin="round"/>
<polygon points="1333.80,130.15 1334.83,132.48 1337.37,132.74 1335.46,134.44 1336.00,136.93 1333.80,135.65 1331.60,136.93 1332.14,134.44 1330.23,132.74 1332.77,132.48" fill="#0000ff" stroke="#0000ff" stroke-width="0.5" stroke-linejoin="round"/>
<polygon points="1314.80,171.25 1315.83,173.58 1318.37,173.84 1316.46,175.54 1317.00,178.03 1314.80,176.75 1312.60,178.03 1313.14,175.54 1311.23,173.84 1313.77,173.58" fill="#cc00e8" stroke="#cc00e8" stroke-width="0.5" stroke-linejoin="round"/>
<polygon points="1324.90,171.25 1325.93,173.58 1328.47,173.84 1326.56,175.54 1327.10,178.03 1324.90,176.75 1322.70,178.03 1323.24,175.54 1321.33,173.84 1323.87,173.58" fill="#cc00e8" stroke="#cc00e8" stroke-width="0.5" stroke-linejoin="round"/>
<polygon points="1334.90,171.25 1335.93,173.58 1338.47,173.84 1336.56,175.54 1337.10,178.03 1334.90,176.75 1332.70,178.03 1333.24,175.54 1331.33,173.84 1333.87,173.58" fill="#cc00e8" stroke="#cc00e8" stroke-width="0.5" stroke-linejoin="round"/>
<polygon points="1318.70,189.45 1319.73,191.78 1322.27,192.04 1320.36,193.74 1320.90,196.23 1318.70,194.95 1316.50,196.23 1317.04,193.74 1315.13,192.04 1317.67,191.78" fill="#00c800" stroke="#00c800" stroke-width="0.5" stroke-linejoin="round"/>
<polygon points="1328.70,189.45 1329.73,191.78 1332.27,192.04 1330.36,193.74 1330.90,196.23 1328.70,194.95 1326.50,196.23 1327.04,193.74 1325.13,192.04 1327.67,191.78" fill="#00c800" stroke="#00c800" stroke-width="0.5" stroke-linejoin="round"/>
</svg>
</body></html>
